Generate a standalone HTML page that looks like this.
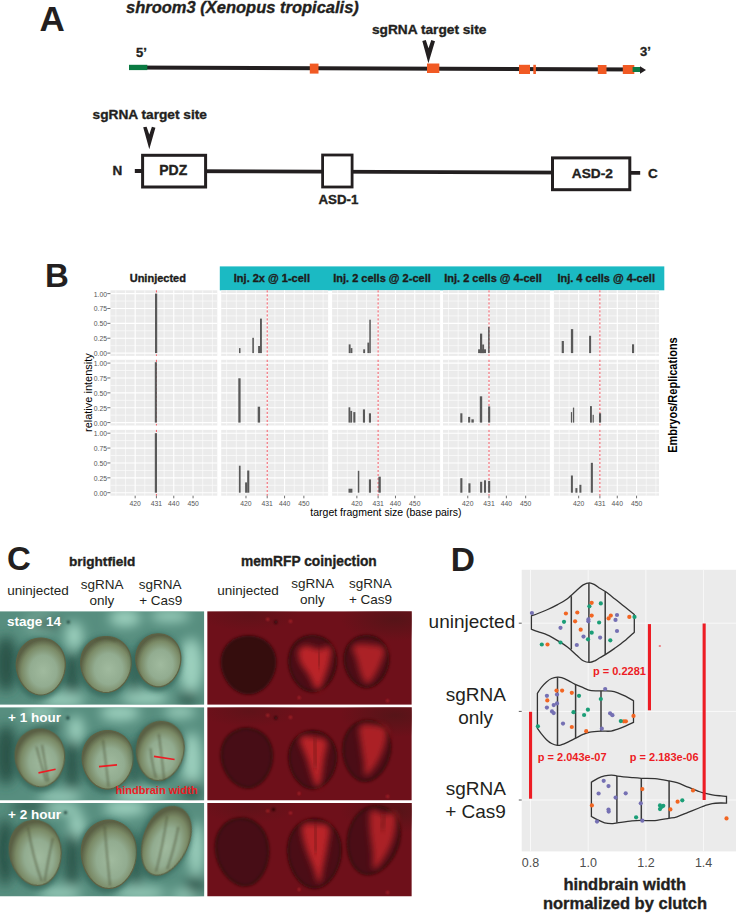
<!DOCTYPE html>
<html><head><meta charset="utf-8"><style>
html,body{margin:0;padding:0;background:#fff;width:736px;height:913px;overflow:hidden}
svg{display:block;font-family:"Liberation Sans",sans-serif}
.bk{stroke:#231F20;stroke-width:0.35px}
</style></head><body>
<svg width="736" height="913" viewBox="0 0 736 913">

<g id="A">
<text x="39.6" y="31" font-size="35" font-weight="bold" fill="#231F20">A</text>
<text class="bk" x="126" y="13" font-size="16.5" font-weight="bold" font-style="italic" fill="#231F20">shroom3 (Xenopus tropicalis)</text>
<text class="bk" x="136" y="57" font-size="13" font-weight="bold" fill="#231F20">5’</text>
<text class="bk" x="640" y="56" font-size="13" font-weight="bold" fill="#231F20">3’</text>
<text class="bk" x="372" y="33.5" font-size="13.7" font-weight="bold" fill="#231F20">sgRNA target site</text>
<path d="M422.3,41 L425.8,40.1 L428.5,48.2 L431.3,40.1 L435,41.3 L428.4,63.3 Z" fill="#231F20"/>
<line x1="129" y1="67.4" x2="641" y2="69.6" stroke="#231F20" stroke-width="4"/>
<rect x="129" y="64.8" width="18.3" height="5.3" fill="#0A7A42"/>
<rect x="309.8" y="63.6" width="8.7" height="10.0" fill="#F15A24"/>
<rect x="427" y="63.5" width="12.3" height="9.5" fill="#F15A24"/>
<rect x="519" y="64.8" width="11.0" height="9.2" fill="#F15A24"/>
<rect x="533.3" y="64.8" width="2.6" height="9.2" fill="#F15A24"/>
<rect x="597.8" y="65" width="8.7" height="9.0" fill="#F15A24"/>
<rect x="622.8" y="65" width="11.5" height="9.0" fill="#F15A24"/>
<rect x="632.6" y="67" width="7.6" height="5" fill="#0B7A45"/>
<path d="M640,66.3 L646,70 L640,73.8 Z" fill="#231F20"/>
<text class="bk" x="92.6" y="119.4" font-size="13.7" font-weight="bold" fill="#231F20">sgRNA target site</text>
<path d="M143.2,127.3 L146.6,126.7 L149.3,134.6 L151.9,126.8 L155.4,127.7 L149.3,149.3 Z" fill="#231F20"/>
<text class="bk" x="112.6" y="174.8" font-size="13.5" font-weight="bold" fill="#231F20">N</text>
<line x1="134.8" y1="171" x2="640.2" y2="172.9" stroke="#231F20" stroke-width="3.8"/>
<rect x="142.6" y="155.3" width="63" height="31.7" fill="#fff" stroke="#231F20" stroke-width="3"/>
<text class="bk" x="159.2" y="174.8" font-size="14" font-weight="bold" fill="#231F20">PDZ</text>
<rect x="322.6" y="155" width="29.5" height="32" fill="#fff" stroke="#231F20" stroke-width="2.8"/>
<text class="bk" x="318.5" y="203.6" font-size="13.3" font-weight="bold" fill="#231F20">ASD-1</text>
<rect x="552.5" y="157.9" width="77.3" height="31.8" fill="#fff" stroke="#231F20" stroke-width="3"/>
<text class="bk" x="571.8" y="177.6" font-size="13.7" font-weight="bold" fill="#231F20">ASD-2</text>
<text class="bk" x="648" y="177.6" font-size="13.5" font-weight="bold" fill="#231F20">C</text>
</g>
<g id="B">
<text x="45" y="287" font-size="33" font-weight="bold" fill="#231F20">B</text>
<text class="bk" x="129.7" y="282.1" font-size="11" font-weight="bold" fill="#1A1A1A">Uninjected</text>
<rect x="219.8" y="266.4" width="444.5" height="23.9" fill="#1BBAC3"/>
<text class="bk" x="233.8" y="282" font-size="11" font-weight="bold" fill="#1A1A1A">Inj. 2x @ 1-cell</text>
<text class="bk" x="333.2" y="282" font-size="11" font-weight="bold" fill="#1A1A1A">Inj. 2 cells @ 2-cell</text>
<text class="bk" x="444.2" y="282" font-size="11" font-weight="bold" fill="#1A1A1A">Inj. 2 cells @ 4-cell</text>
<text class="bk" x="557.4" y="282" font-size="11" font-weight="bold" fill="#1A1A1A">Inj. 4 cells @ 4-cell</text>
<rect x="110.4" y="290.3" width="106.9" height="65.6" fill="#EBEBEB"/>
<line x1="115.87" y1="290.3" x2="115.87" y2="355.9" stroke="#FAFAFA" stroke-width="0.8"/>
<line x1="125.52" y1="290.3" x2="125.52" y2="355.9" stroke="#FAFAFA" stroke-width="0.8"/>
<line x1="144.82" y1="290.3" x2="144.82" y2="355.9" stroke="#FAFAFA" stroke-width="0.8"/>
<line x1="164.12" y1="290.3" x2="164.12" y2="355.9" stroke="#FAFAFA" stroke-width="0.8"/>
<line x1="183.42" y1="290.3" x2="183.42" y2="355.9" stroke="#FAFAFA" stroke-width="0.8"/>
<line x1="202.72" y1="290.3" x2="202.72" y2="355.9" stroke="#FAFAFA" stroke-width="0.8"/>
<line x1="212.37" y1="290.3" x2="212.37" y2="355.9" stroke="#FAFAFA" stroke-width="0.8"/>
<line x1="110.4" y1="301.04" x2="217.3" y2="301.04" stroke="#FAFAFA" stroke-width="0.8"/>
<line x1="110.4" y1="315.92" x2="217.3" y2="315.92" stroke="#FAFAFA" stroke-width="0.8"/>
<line x1="110.4" y1="330.80" x2="217.3" y2="330.80" stroke="#FAFAFA" stroke-width="0.8"/>
<line x1="110.4" y1="345.68" x2="217.3" y2="345.68" stroke="#FAFAFA" stroke-width="0.8"/>
<line x1="135.17" y1="290.3" x2="135.17" y2="355.9" stroke="#fff" stroke-width="1.1"/>
<line x1="156.40" y1="290.3" x2="156.40" y2="355.9" stroke="#fff" stroke-width="1.1"/>
<line x1="173.77" y1="290.3" x2="173.77" y2="355.9" stroke="#fff" stroke-width="1.1"/>
<line x1="193.07" y1="290.3" x2="193.07" y2="355.9" stroke="#fff" stroke-width="1.1"/>
<line x1="110.4" y1="293.60" x2="217.3" y2="293.60" stroke="#fff" stroke-width="1.1"/>
<line x1="110.4" y1="308.48" x2="217.3" y2="308.48" stroke="#fff" stroke-width="1.1"/>
<line x1="110.4" y1="323.36" x2="217.3" y2="323.36" stroke="#fff" stroke-width="1.1"/>
<line x1="110.4" y1="338.24" x2="217.3" y2="338.24" stroke="#fff" stroke-width="1.1"/>
<line x1="110.4" y1="353.12" x2="217.3" y2="353.12" stroke="#fff" stroke-width="1.1"/>
<line x1="156.40" y1="290.3" x2="156.40" y2="355.9" stroke="#EE5560" stroke-width="1" stroke-dasharray="2.2,1.8"/>
<rect x="221.2" y="290.3" width="106.9" height="65.6" fill="#EBEBEB"/>
<line x1="226.67" y1="290.3" x2="226.67" y2="355.9" stroke="#FAFAFA" stroke-width="0.8"/>
<line x1="236.32" y1="290.3" x2="236.32" y2="355.9" stroke="#FAFAFA" stroke-width="0.8"/>
<line x1="255.62" y1="290.3" x2="255.62" y2="355.9" stroke="#FAFAFA" stroke-width="0.8"/>
<line x1="274.92" y1="290.3" x2="274.92" y2="355.9" stroke="#FAFAFA" stroke-width="0.8"/>
<line x1="294.22" y1="290.3" x2="294.22" y2="355.9" stroke="#FAFAFA" stroke-width="0.8"/>
<line x1="313.52" y1="290.3" x2="313.52" y2="355.9" stroke="#FAFAFA" stroke-width="0.8"/>
<line x1="323.17" y1="290.3" x2="323.17" y2="355.9" stroke="#FAFAFA" stroke-width="0.8"/>
<line x1="221.2" y1="301.04" x2="328.1" y2="301.04" stroke="#FAFAFA" stroke-width="0.8"/>
<line x1="221.2" y1="315.92" x2="328.1" y2="315.92" stroke="#FAFAFA" stroke-width="0.8"/>
<line x1="221.2" y1="330.80" x2="328.1" y2="330.80" stroke="#FAFAFA" stroke-width="0.8"/>
<line x1="221.2" y1="345.68" x2="328.1" y2="345.68" stroke="#FAFAFA" stroke-width="0.8"/>
<line x1="245.97" y1="290.3" x2="245.97" y2="355.9" stroke="#fff" stroke-width="1.1"/>
<line x1="267.20" y1="290.3" x2="267.20" y2="355.9" stroke="#fff" stroke-width="1.1"/>
<line x1="284.57" y1="290.3" x2="284.57" y2="355.9" stroke="#fff" stroke-width="1.1"/>
<line x1="303.87" y1="290.3" x2="303.87" y2="355.9" stroke="#fff" stroke-width="1.1"/>
<line x1="221.2" y1="293.60" x2="328.1" y2="293.60" stroke="#fff" stroke-width="1.1"/>
<line x1="221.2" y1="308.48" x2="328.1" y2="308.48" stroke="#fff" stroke-width="1.1"/>
<line x1="221.2" y1="323.36" x2="328.1" y2="323.36" stroke="#fff" stroke-width="1.1"/>
<line x1="221.2" y1="338.24" x2="328.1" y2="338.24" stroke="#fff" stroke-width="1.1"/>
<line x1="221.2" y1="353.12" x2="328.1" y2="353.12" stroke="#fff" stroke-width="1.1"/>
<line x1="267.20" y1="290.3" x2="267.20" y2="355.9" stroke="#EE5560" stroke-width="1" stroke-dasharray="2.2,1.8"/>
<rect x="332.1" y="290.3" width="108.0" height="65.6" fill="#EBEBEB"/>
<line x1="337.57" y1="290.3" x2="337.57" y2="355.9" stroke="#FAFAFA" stroke-width="0.8"/>
<line x1="347.22" y1="290.3" x2="347.22" y2="355.9" stroke="#FAFAFA" stroke-width="0.8"/>
<line x1="366.52" y1="290.3" x2="366.52" y2="355.9" stroke="#FAFAFA" stroke-width="0.8"/>
<line x1="385.82" y1="290.3" x2="385.82" y2="355.9" stroke="#FAFAFA" stroke-width="0.8"/>
<line x1="405.12" y1="290.3" x2="405.12" y2="355.9" stroke="#FAFAFA" stroke-width="0.8"/>
<line x1="424.42" y1="290.3" x2="424.42" y2="355.9" stroke="#FAFAFA" stroke-width="0.8"/>
<line x1="434.07" y1="290.3" x2="434.07" y2="355.9" stroke="#FAFAFA" stroke-width="0.8"/>
<line x1="332.1" y1="301.04" x2="440.1" y2="301.04" stroke="#FAFAFA" stroke-width="0.8"/>
<line x1="332.1" y1="315.92" x2="440.1" y2="315.92" stroke="#FAFAFA" stroke-width="0.8"/>
<line x1="332.1" y1="330.80" x2="440.1" y2="330.80" stroke="#FAFAFA" stroke-width="0.8"/>
<line x1="332.1" y1="345.68" x2="440.1" y2="345.68" stroke="#FAFAFA" stroke-width="0.8"/>
<line x1="356.87" y1="290.3" x2="356.87" y2="355.9" stroke="#fff" stroke-width="1.1"/>
<line x1="378.10" y1="290.3" x2="378.10" y2="355.9" stroke="#fff" stroke-width="1.1"/>
<line x1="395.47" y1="290.3" x2="395.47" y2="355.9" stroke="#fff" stroke-width="1.1"/>
<line x1="414.77" y1="290.3" x2="414.77" y2="355.9" stroke="#fff" stroke-width="1.1"/>
<line x1="332.1" y1="293.60" x2="440.1" y2="293.60" stroke="#fff" stroke-width="1.1"/>
<line x1="332.1" y1="308.48" x2="440.1" y2="308.48" stroke="#fff" stroke-width="1.1"/>
<line x1="332.1" y1="323.36" x2="440.1" y2="323.36" stroke="#fff" stroke-width="1.1"/>
<line x1="332.1" y1="338.24" x2="440.1" y2="338.24" stroke="#fff" stroke-width="1.1"/>
<line x1="332.1" y1="353.12" x2="440.1" y2="353.12" stroke="#fff" stroke-width="1.1"/>
<line x1="378.10" y1="290.3" x2="378.10" y2="355.9" stroke="#EE5560" stroke-width="1" stroke-dasharray="2.2,1.8"/>
<rect x="443.0" y="290.3" width="106.9" height="65.6" fill="#EBEBEB"/>
<line x1="448.47" y1="290.3" x2="448.47" y2="355.9" stroke="#FAFAFA" stroke-width="0.8"/>
<line x1="458.12" y1="290.3" x2="458.12" y2="355.9" stroke="#FAFAFA" stroke-width="0.8"/>
<line x1="477.42" y1="290.3" x2="477.42" y2="355.9" stroke="#FAFAFA" stroke-width="0.8"/>
<line x1="496.72" y1="290.3" x2="496.72" y2="355.9" stroke="#FAFAFA" stroke-width="0.8"/>
<line x1="516.02" y1="290.3" x2="516.02" y2="355.9" stroke="#FAFAFA" stroke-width="0.8"/>
<line x1="535.32" y1="290.3" x2="535.32" y2="355.9" stroke="#FAFAFA" stroke-width="0.8"/>
<line x1="544.97" y1="290.3" x2="544.97" y2="355.9" stroke="#FAFAFA" stroke-width="0.8"/>
<line x1="443.0" y1="301.04" x2="549.9" y2="301.04" stroke="#FAFAFA" stroke-width="0.8"/>
<line x1="443.0" y1="315.92" x2="549.9" y2="315.92" stroke="#FAFAFA" stroke-width="0.8"/>
<line x1="443.0" y1="330.80" x2="549.9" y2="330.80" stroke="#FAFAFA" stroke-width="0.8"/>
<line x1="443.0" y1="345.68" x2="549.9" y2="345.68" stroke="#FAFAFA" stroke-width="0.8"/>
<line x1="467.77" y1="290.3" x2="467.77" y2="355.9" stroke="#fff" stroke-width="1.1"/>
<line x1="489.00" y1="290.3" x2="489.00" y2="355.9" stroke="#fff" stroke-width="1.1"/>
<line x1="506.37" y1="290.3" x2="506.37" y2="355.9" stroke="#fff" stroke-width="1.1"/>
<line x1="525.67" y1="290.3" x2="525.67" y2="355.9" stroke="#fff" stroke-width="1.1"/>
<line x1="443.0" y1="293.60" x2="549.9" y2="293.60" stroke="#fff" stroke-width="1.1"/>
<line x1="443.0" y1="308.48" x2="549.9" y2="308.48" stroke="#fff" stroke-width="1.1"/>
<line x1="443.0" y1="323.36" x2="549.9" y2="323.36" stroke="#fff" stroke-width="1.1"/>
<line x1="443.0" y1="338.24" x2="549.9" y2="338.24" stroke="#fff" stroke-width="1.1"/>
<line x1="443.0" y1="353.12" x2="549.9" y2="353.12" stroke="#fff" stroke-width="1.1"/>
<line x1="489.00" y1="290.3" x2="489.00" y2="355.9" stroke="#EE5560" stroke-width="1" stroke-dasharray="2.2,1.8"/>
<rect x="553.9" y="290.3" width="105.1" height="65.6" fill="#EBEBEB"/>
<line x1="559.37" y1="290.3" x2="559.37" y2="355.9" stroke="#FAFAFA" stroke-width="0.8"/>
<line x1="569.02" y1="290.3" x2="569.02" y2="355.9" stroke="#FAFAFA" stroke-width="0.8"/>
<line x1="588.32" y1="290.3" x2="588.32" y2="355.9" stroke="#FAFAFA" stroke-width="0.8"/>
<line x1="607.62" y1="290.3" x2="607.62" y2="355.9" stroke="#FAFAFA" stroke-width="0.8"/>
<line x1="626.92" y1="290.3" x2="626.92" y2="355.9" stroke="#FAFAFA" stroke-width="0.8"/>
<line x1="646.22" y1="290.3" x2="646.22" y2="355.9" stroke="#FAFAFA" stroke-width="0.8"/>
<line x1="655.87" y1="290.3" x2="655.87" y2="355.9" stroke="#FAFAFA" stroke-width="0.8"/>
<line x1="553.9" y1="301.04" x2="659.0" y2="301.04" stroke="#FAFAFA" stroke-width="0.8"/>
<line x1="553.9" y1="315.92" x2="659.0" y2="315.92" stroke="#FAFAFA" stroke-width="0.8"/>
<line x1="553.9" y1="330.80" x2="659.0" y2="330.80" stroke="#FAFAFA" stroke-width="0.8"/>
<line x1="553.9" y1="345.68" x2="659.0" y2="345.68" stroke="#FAFAFA" stroke-width="0.8"/>
<line x1="578.67" y1="290.3" x2="578.67" y2="355.9" stroke="#fff" stroke-width="1.1"/>
<line x1="599.90" y1="290.3" x2="599.90" y2="355.9" stroke="#fff" stroke-width="1.1"/>
<line x1="617.27" y1="290.3" x2="617.27" y2="355.9" stroke="#fff" stroke-width="1.1"/>
<line x1="636.57" y1="290.3" x2="636.57" y2="355.9" stroke="#fff" stroke-width="1.1"/>
<line x1="553.9" y1="293.60" x2="659.0" y2="293.60" stroke="#fff" stroke-width="1.1"/>
<line x1="553.9" y1="308.48" x2="659.0" y2="308.48" stroke="#fff" stroke-width="1.1"/>
<line x1="553.9" y1="323.36" x2="659.0" y2="323.36" stroke="#fff" stroke-width="1.1"/>
<line x1="553.9" y1="338.24" x2="659.0" y2="338.24" stroke="#fff" stroke-width="1.1"/>
<line x1="553.9" y1="353.12" x2="659.0" y2="353.12" stroke="#fff" stroke-width="1.1"/>
<line x1="599.90" y1="290.3" x2="599.90" y2="355.9" stroke="#EE5560" stroke-width="1" stroke-dasharray="2.2,1.8"/>
<rect x="110.4" y="359.8" width="106.9" height="65.7" fill="#EBEBEB"/>
<line x1="115.87" y1="359.8" x2="115.87" y2="425.5" stroke="#FAFAFA" stroke-width="0.8"/>
<line x1="125.52" y1="359.8" x2="125.52" y2="425.5" stroke="#FAFAFA" stroke-width="0.8"/>
<line x1="144.82" y1="359.8" x2="144.82" y2="425.5" stroke="#FAFAFA" stroke-width="0.8"/>
<line x1="164.12" y1="359.8" x2="164.12" y2="425.5" stroke="#FAFAFA" stroke-width="0.8"/>
<line x1="183.42" y1="359.8" x2="183.42" y2="425.5" stroke="#FAFAFA" stroke-width="0.8"/>
<line x1="202.72" y1="359.8" x2="202.72" y2="425.5" stroke="#FAFAFA" stroke-width="0.8"/>
<line x1="212.37" y1="359.8" x2="212.37" y2="425.5" stroke="#FAFAFA" stroke-width="0.8"/>
<line x1="110.4" y1="370.54" x2="217.3" y2="370.54" stroke="#FAFAFA" stroke-width="0.8"/>
<line x1="110.4" y1="385.42" x2="217.3" y2="385.42" stroke="#FAFAFA" stroke-width="0.8"/>
<line x1="110.4" y1="400.30" x2="217.3" y2="400.30" stroke="#FAFAFA" stroke-width="0.8"/>
<line x1="110.4" y1="415.18" x2="217.3" y2="415.18" stroke="#FAFAFA" stroke-width="0.8"/>
<line x1="135.17" y1="359.8" x2="135.17" y2="425.5" stroke="#fff" stroke-width="1.1"/>
<line x1="156.40" y1="359.8" x2="156.40" y2="425.5" stroke="#fff" stroke-width="1.1"/>
<line x1="173.77" y1="359.8" x2="173.77" y2="425.5" stroke="#fff" stroke-width="1.1"/>
<line x1="193.07" y1="359.8" x2="193.07" y2="425.5" stroke="#fff" stroke-width="1.1"/>
<line x1="110.4" y1="363.10" x2="217.3" y2="363.10" stroke="#fff" stroke-width="1.1"/>
<line x1="110.4" y1="377.98" x2="217.3" y2="377.98" stroke="#fff" stroke-width="1.1"/>
<line x1="110.4" y1="392.86" x2="217.3" y2="392.86" stroke="#fff" stroke-width="1.1"/>
<line x1="110.4" y1="407.74" x2="217.3" y2="407.74" stroke="#fff" stroke-width="1.1"/>
<line x1="110.4" y1="422.62" x2="217.3" y2="422.62" stroke="#fff" stroke-width="1.1"/>
<line x1="156.40" y1="359.8" x2="156.40" y2="425.5" stroke="#EE5560" stroke-width="1" stroke-dasharray="2.2,1.8"/>
<rect x="221.2" y="359.8" width="106.9" height="65.7" fill="#EBEBEB"/>
<line x1="226.67" y1="359.8" x2="226.67" y2="425.5" stroke="#FAFAFA" stroke-width="0.8"/>
<line x1="236.32" y1="359.8" x2="236.32" y2="425.5" stroke="#FAFAFA" stroke-width="0.8"/>
<line x1="255.62" y1="359.8" x2="255.62" y2="425.5" stroke="#FAFAFA" stroke-width="0.8"/>
<line x1="274.92" y1="359.8" x2="274.92" y2="425.5" stroke="#FAFAFA" stroke-width="0.8"/>
<line x1="294.22" y1="359.8" x2="294.22" y2="425.5" stroke="#FAFAFA" stroke-width="0.8"/>
<line x1="313.52" y1="359.8" x2="313.52" y2="425.5" stroke="#FAFAFA" stroke-width="0.8"/>
<line x1="323.17" y1="359.8" x2="323.17" y2="425.5" stroke="#FAFAFA" stroke-width="0.8"/>
<line x1="221.2" y1="370.54" x2="328.1" y2="370.54" stroke="#FAFAFA" stroke-width="0.8"/>
<line x1="221.2" y1="385.42" x2="328.1" y2="385.42" stroke="#FAFAFA" stroke-width="0.8"/>
<line x1="221.2" y1="400.30" x2="328.1" y2="400.30" stroke="#FAFAFA" stroke-width="0.8"/>
<line x1="221.2" y1="415.18" x2="328.1" y2="415.18" stroke="#FAFAFA" stroke-width="0.8"/>
<line x1="245.97" y1="359.8" x2="245.97" y2="425.5" stroke="#fff" stroke-width="1.1"/>
<line x1="267.20" y1="359.8" x2="267.20" y2="425.5" stroke="#fff" stroke-width="1.1"/>
<line x1="284.57" y1="359.8" x2="284.57" y2="425.5" stroke="#fff" stroke-width="1.1"/>
<line x1="303.87" y1="359.8" x2="303.87" y2="425.5" stroke="#fff" stroke-width="1.1"/>
<line x1="221.2" y1="363.10" x2="328.1" y2="363.10" stroke="#fff" stroke-width="1.1"/>
<line x1="221.2" y1="377.98" x2="328.1" y2="377.98" stroke="#fff" stroke-width="1.1"/>
<line x1="221.2" y1="392.86" x2="328.1" y2="392.86" stroke="#fff" stroke-width="1.1"/>
<line x1="221.2" y1="407.74" x2="328.1" y2="407.74" stroke="#fff" stroke-width="1.1"/>
<line x1="221.2" y1="422.62" x2="328.1" y2="422.62" stroke="#fff" stroke-width="1.1"/>
<line x1="267.20" y1="359.8" x2="267.20" y2="425.5" stroke="#EE5560" stroke-width="1" stroke-dasharray="2.2,1.8"/>
<rect x="332.1" y="359.8" width="108.0" height="65.7" fill="#EBEBEB"/>
<line x1="337.57" y1="359.8" x2="337.57" y2="425.5" stroke="#FAFAFA" stroke-width="0.8"/>
<line x1="347.22" y1="359.8" x2="347.22" y2="425.5" stroke="#FAFAFA" stroke-width="0.8"/>
<line x1="366.52" y1="359.8" x2="366.52" y2="425.5" stroke="#FAFAFA" stroke-width="0.8"/>
<line x1="385.82" y1="359.8" x2="385.82" y2="425.5" stroke="#FAFAFA" stroke-width="0.8"/>
<line x1="405.12" y1="359.8" x2="405.12" y2="425.5" stroke="#FAFAFA" stroke-width="0.8"/>
<line x1="424.42" y1="359.8" x2="424.42" y2="425.5" stroke="#FAFAFA" stroke-width="0.8"/>
<line x1="434.07" y1="359.8" x2="434.07" y2="425.5" stroke="#FAFAFA" stroke-width="0.8"/>
<line x1="332.1" y1="370.54" x2="440.1" y2="370.54" stroke="#FAFAFA" stroke-width="0.8"/>
<line x1="332.1" y1="385.42" x2="440.1" y2="385.42" stroke="#FAFAFA" stroke-width="0.8"/>
<line x1="332.1" y1="400.30" x2="440.1" y2="400.30" stroke="#FAFAFA" stroke-width="0.8"/>
<line x1="332.1" y1="415.18" x2="440.1" y2="415.18" stroke="#FAFAFA" stroke-width="0.8"/>
<line x1="356.87" y1="359.8" x2="356.87" y2="425.5" stroke="#fff" stroke-width="1.1"/>
<line x1="378.10" y1="359.8" x2="378.10" y2="425.5" stroke="#fff" stroke-width="1.1"/>
<line x1="395.47" y1="359.8" x2="395.47" y2="425.5" stroke="#fff" stroke-width="1.1"/>
<line x1="414.77" y1="359.8" x2="414.77" y2="425.5" stroke="#fff" stroke-width="1.1"/>
<line x1="332.1" y1="363.10" x2="440.1" y2="363.10" stroke="#fff" stroke-width="1.1"/>
<line x1="332.1" y1="377.98" x2="440.1" y2="377.98" stroke="#fff" stroke-width="1.1"/>
<line x1="332.1" y1="392.86" x2="440.1" y2="392.86" stroke="#fff" stroke-width="1.1"/>
<line x1="332.1" y1="407.74" x2="440.1" y2="407.74" stroke="#fff" stroke-width="1.1"/>
<line x1="332.1" y1="422.62" x2="440.1" y2="422.62" stroke="#fff" stroke-width="1.1"/>
<line x1="378.10" y1="359.8" x2="378.10" y2="425.5" stroke="#EE5560" stroke-width="1" stroke-dasharray="2.2,1.8"/>
<rect x="443.0" y="359.8" width="106.9" height="65.7" fill="#EBEBEB"/>
<line x1="448.47" y1="359.8" x2="448.47" y2="425.5" stroke="#FAFAFA" stroke-width="0.8"/>
<line x1="458.12" y1="359.8" x2="458.12" y2="425.5" stroke="#FAFAFA" stroke-width="0.8"/>
<line x1="477.42" y1="359.8" x2="477.42" y2="425.5" stroke="#FAFAFA" stroke-width="0.8"/>
<line x1="496.72" y1="359.8" x2="496.72" y2="425.5" stroke="#FAFAFA" stroke-width="0.8"/>
<line x1="516.02" y1="359.8" x2="516.02" y2="425.5" stroke="#FAFAFA" stroke-width="0.8"/>
<line x1="535.32" y1="359.8" x2="535.32" y2="425.5" stroke="#FAFAFA" stroke-width="0.8"/>
<line x1="544.97" y1="359.8" x2="544.97" y2="425.5" stroke="#FAFAFA" stroke-width="0.8"/>
<line x1="443.0" y1="370.54" x2="549.9" y2="370.54" stroke="#FAFAFA" stroke-width="0.8"/>
<line x1="443.0" y1="385.42" x2="549.9" y2="385.42" stroke="#FAFAFA" stroke-width="0.8"/>
<line x1="443.0" y1="400.30" x2="549.9" y2="400.30" stroke="#FAFAFA" stroke-width="0.8"/>
<line x1="443.0" y1="415.18" x2="549.9" y2="415.18" stroke="#FAFAFA" stroke-width="0.8"/>
<line x1="467.77" y1="359.8" x2="467.77" y2="425.5" stroke="#fff" stroke-width="1.1"/>
<line x1="489.00" y1="359.8" x2="489.00" y2="425.5" stroke="#fff" stroke-width="1.1"/>
<line x1="506.37" y1="359.8" x2="506.37" y2="425.5" stroke="#fff" stroke-width="1.1"/>
<line x1="525.67" y1="359.8" x2="525.67" y2="425.5" stroke="#fff" stroke-width="1.1"/>
<line x1="443.0" y1="363.10" x2="549.9" y2="363.10" stroke="#fff" stroke-width="1.1"/>
<line x1="443.0" y1="377.98" x2="549.9" y2="377.98" stroke="#fff" stroke-width="1.1"/>
<line x1="443.0" y1="392.86" x2="549.9" y2="392.86" stroke="#fff" stroke-width="1.1"/>
<line x1="443.0" y1="407.74" x2="549.9" y2="407.74" stroke="#fff" stroke-width="1.1"/>
<line x1="443.0" y1="422.62" x2="549.9" y2="422.62" stroke="#fff" stroke-width="1.1"/>
<line x1="489.00" y1="359.8" x2="489.00" y2="425.5" stroke="#EE5560" stroke-width="1" stroke-dasharray="2.2,1.8"/>
<rect x="553.9" y="359.8" width="105.1" height="65.7" fill="#EBEBEB"/>
<line x1="559.37" y1="359.8" x2="559.37" y2="425.5" stroke="#FAFAFA" stroke-width="0.8"/>
<line x1="569.02" y1="359.8" x2="569.02" y2="425.5" stroke="#FAFAFA" stroke-width="0.8"/>
<line x1="588.32" y1="359.8" x2="588.32" y2="425.5" stroke="#FAFAFA" stroke-width="0.8"/>
<line x1="607.62" y1="359.8" x2="607.62" y2="425.5" stroke="#FAFAFA" stroke-width="0.8"/>
<line x1="626.92" y1="359.8" x2="626.92" y2="425.5" stroke="#FAFAFA" stroke-width="0.8"/>
<line x1="646.22" y1="359.8" x2="646.22" y2="425.5" stroke="#FAFAFA" stroke-width="0.8"/>
<line x1="655.87" y1="359.8" x2="655.87" y2="425.5" stroke="#FAFAFA" stroke-width="0.8"/>
<line x1="553.9" y1="370.54" x2="659.0" y2="370.54" stroke="#FAFAFA" stroke-width="0.8"/>
<line x1="553.9" y1="385.42" x2="659.0" y2="385.42" stroke="#FAFAFA" stroke-width="0.8"/>
<line x1="553.9" y1="400.30" x2="659.0" y2="400.30" stroke="#FAFAFA" stroke-width="0.8"/>
<line x1="553.9" y1="415.18" x2="659.0" y2="415.18" stroke="#FAFAFA" stroke-width="0.8"/>
<line x1="578.67" y1="359.8" x2="578.67" y2="425.5" stroke="#fff" stroke-width="1.1"/>
<line x1="599.90" y1="359.8" x2="599.90" y2="425.5" stroke="#fff" stroke-width="1.1"/>
<line x1="617.27" y1="359.8" x2="617.27" y2="425.5" stroke="#fff" stroke-width="1.1"/>
<line x1="636.57" y1="359.8" x2="636.57" y2="425.5" stroke="#fff" stroke-width="1.1"/>
<line x1="553.9" y1="363.10" x2="659.0" y2="363.10" stroke="#fff" stroke-width="1.1"/>
<line x1="553.9" y1="377.98" x2="659.0" y2="377.98" stroke="#fff" stroke-width="1.1"/>
<line x1="553.9" y1="392.86" x2="659.0" y2="392.86" stroke="#fff" stroke-width="1.1"/>
<line x1="553.9" y1="407.74" x2="659.0" y2="407.74" stroke="#fff" stroke-width="1.1"/>
<line x1="553.9" y1="422.62" x2="659.0" y2="422.62" stroke="#fff" stroke-width="1.1"/>
<line x1="599.90" y1="359.8" x2="599.90" y2="425.5" stroke="#EE5560" stroke-width="1" stroke-dasharray="2.2,1.8"/>
<rect x="110.4" y="429.9" width="106.9" height="65.8" fill="#EBEBEB"/>
<line x1="115.87" y1="429.9" x2="115.87" y2="495.7" stroke="#FAFAFA" stroke-width="0.8"/>
<line x1="125.52" y1="429.9" x2="125.52" y2="495.7" stroke="#FAFAFA" stroke-width="0.8"/>
<line x1="144.82" y1="429.9" x2="144.82" y2="495.7" stroke="#FAFAFA" stroke-width="0.8"/>
<line x1="164.12" y1="429.9" x2="164.12" y2="495.7" stroke="#FAFAFA" stroke-width="0.8"/>
<line x1="183.42" y1="429.9" x2="183.42" y2="495.7" stroke="#FAFAFA" stroke-width="0.8"/>
<line x1="202.72" y1="429.9" x2="202.72" y2="495.7" stroke="#FAFAFA" stroke-width="0.8"/>
<line x1="212.37" y1="429.9" x2="212.37" y2="495.7" stroke="#FAFAFA" stroke-width="0.8"/>
<line x1="110.4" y1="440.64" x2="217.3" y2="440.64" stroke="#FAFAFA" stroke-width="0.8"/>
<line x1="110.4" y1="455.52" x2="217.3" y2="455.52" stroke="#FAFAFA" stroke-width="0.8"/>
<line x1="110.4" y1="470.40" x2="217.3" y2="470.40" stroke="#FAFAFA" stroke-width="0.8"/>
<line x1="110.4" y1="485.28" x2="217.3" y2="485.28" stroke="#FAFAFA" stroke-width="0.8"/>
<line x1="135.17" y1="429.9" x2="135.17" y2="495.7" stroke="#fff" stroke-width="1.1"/>
<line x1="156.40" y1="429.9" x2="156.40" y2="495.7" stroke="#fff" stroke-width="1.1"/>
<line x1="173.77" y1="429.9" x2="173.77" y2="495.7" stroke="#fff" stroke-width="1.1"/>
<line x1="193.07" y1="429.9" x2="193.07" y2="495.7" stroke="#fff" stroke-width="1.1"/>
<line x1="110.4" y1="433.20" x2="217.3" y2="433.20" stroke="#fff" stroke-width="1.1"/>
<line x1="110.4" y1="448.08" x2="217.3" y2="448.08" stroke="#fff" stroke-width="1.1"/>
<line x1="110.4" y1="462.96" x2="217.3" y2="462.96" stroke="#fff" stroke-width="1.1"/>
<line x1="110.4" y1="477.84" x2="217.3" y2="477.84" stroke="#fff" stroke-width="1.1"/>
<line x1="110.4" y1="492.72" x2="217.3" y2="492.72" stroke="#fff" stroke-width="1.1"/>
<line x1="156.40" y1="429.9" x2="156.40" y2="495.7" stroke="#EE5560" stroke-width="1" stroke-dasharray="2.2,1.8"/>
<rect x="221.2" y="429.9" width="106.9" height="65.8" fill="#EBEBEB"/>
<line x1="226.67" y1="429.9" x2="226.67" y2="495.7" stroke="#FAFAFA" stroke-width="0.8"/>
<line x1="236.32" y1="429.9" x2="236.32" y2="495.7" stroke="#FAFAFA" stroke-width="0.8"/>
<line x1="255.62" y1="429.9" x2="255.62" y2="495.7" stroke="#FAFAFA" stroke-width="0.8"/>
<line x1="274.92" y1="429.9" x2="274.92" y2="495.7" stroke="#FAFAFA" stroke-width="0.8"/>
<line x1="294.22" y1="429.9" x2="294.22" y2="495.7" stroke="#FAFAFA" stroke-width="0.8"/>
<line x1="313.52" y1="429.9" x2="313.52" y2="495.7" stroke="#FAFAFA" stroke-width="0.8"/>
<line x1="323.17" y1="429.9" x2="323.17" y2="495.7" stroke="#FAFAFA" stroke-width="0.8"/>
<line x1="221.2" y1="440.64" x2="328.1" y2="440.64" stroke="#FAFAFA" stroke-width="0.8"/>
<line x1="221.2" y1="455.52" x2="328.1" y2="455.52" stroke="#FAFAFA" stroke-width="0.8"/>
<line x1="221.2" y1="470.40" x2="328.1" y2="470.40" stroke="#FAFAFA" stroke-width="0.8"/>
<line x1="221.2" y1="485.28" x2="328.1" y2="485.28" stroke="#FAFAFA" stroke-width="0.8"/>
<line x1="245.97" y1="429.9" x2="245.97" y2="495.7" stroke="#fff" stroke-width="1.1"/>
<line x1="267.20" y1="429.9" x2="267.20" y2="495.7" stroke="#fff" stroke-width="1.1"/>
<line x1="284.57" y1="429.9" x2="284.57" y2="495.7" stroke="#fff" stroke-width="1.1"/>
<line x1="303.87" y1="429.9" x2="303.87" y2="495.7" stroke="#fff" stroke-width="1.1"/>
<line x1="221.2" y1="433.20" x2="328.1" y2="433.20" stroke="#fff" stroke-width="1.1"/>
<line x1="221.2" y1="448.08" x2="328.1" y2="448.08" stroke="#fff" stroke-width="1.1"/>
<line x1="221.2" y1="462.96" x2="328.1" y2="462.96" stroke="#fff" stroke-width="1.1"/>
<line x1="221.2" y1="477.84" x2="328.1" y2="477.84" stroke="#fff" stroke-width="1.1"/>
<line x1="221.2" y1="492.72" x2="328.1" y2="492.72" stroke="#fff" stroke-width="1.1"/>
<line x1="267.20" y1="429.9" x2="267.20" y2="495.7" stroke="#EE5560" stroke-width="1" stroke-dasharray="2.2,1.8"/>
<rect x="332.1" y="429.9" width="108.0" height="65.8" fill="#EBEBEB"/>
<line x1="337.57" y1="429.9" x2="337.57" y2="495.7" stroke="#FAFAFA" stroke-width="0.8"/>
<line x1="347.22" y1="429.9" x2="347.22" y2="495.7" stroke="#FAFAFA" stroke-width="0.8"/>
<line x1="366.52" y1="429.9" x2="366.52" y2="495.7" stroke="#FAFAFA" stroke-width="0.8"/>
<line x1="385.82" y1="429.9" x2="385.82" y2="495.7" stroke="#FAFAFA" stroke-width="0.8"/>
<line x1="405.12" y1="429.9" x2="405.12" y2="495.7" stroke="#FAFAFA" stroke-width="0.8"/>
<line x1="424.42" y1="429.9" x2="424.42" y2="495.7" stroke="#FAFAFA" stroke-width="0.8"/>
<line x1="434.07" y1="429.9" x2="434.07" y2="495.7" stroke="#FAFAFA" stroke-width="0.8"/>
<line x1="332.1" y1="440.64" x2="440.1" y2="440.64" stroke="#FAFAFA" stroke-width="0.8"/>
<line x1="332.1" y1="455.52" x2="440.1" y2="455.52" stroke="#FAFAFA" stroke-width="0.8"/>
<line x1="332.1" y1="470.40" x2="440.1" y2="470.40" stroke="#FAFAFA" stroke-width="0.8"/>
<line x1="332.1" y1="485.28" x2="440.1" y2="485.28" stroke="#FAFAFA" stroke-width="0.8"/>
<line x1="356.87" y1="429.9" x2="356.87" y2="495.7" stroke="#fff" stroke-width="1.1"/>
<line x1="378.10" y1="429.9" x2="378.10" y2="495.7" stroke="#fff" stroke-width="1.1"/>
<line x1="395.47" y1="429.9" x2="395.47" y2="495.7" stroke="#fff" stroke-width="1.1"/>
<line x1="414.77" y1="429.9" x2="414.77" y2="495.7" stroke="#fff" stroke-width="1.1"/>
<line x1="332.1" y1="433.20" x2="440.1" y2="433.20" stroke="#fff" stroke-width="1.1"/>
<line x1="332.1" y1="448.08" x2="440.1" y2="448.08" stroke="#fff" stroke-width="1.1"/>
<line x1="332.1" y1="462.96" x2="440.1" y2="462.96" stroke="#fff" stroke-width="1.1"/>
<line x1="332.1" y1="477.84" x2="440.1" y2="477.84" stroke="#fff" stroke-width="1.1"/>
<line x1="332.1" y1="492.72" x2="440.1" y2="492.72" stroke="#fff" stroke-width="1.1"/>
<line x1="378.10" y1="429.9" x2="378.10" y2="495.7" stroke="#EE5560" stroke-width="1" stroke-dasharray="2.2,1.8"/>
<rect x="443.0" y="429.9" width="106.9" height="65.8" fill="#EBEBEB"/>
<line x1="448.47" y1="429.9" x2="448.47" y2="495.7" stroke="#FAFAFA" stroke-width="0.8"/>
<line x1="458.12" y1="429.9" x2="458.12" y2="495.7" stroke="#FAFAFA" stroke-width="0.8"/>
<line x1="477.42" y1="429.9" x2="477.42" y2="495.7" stroke="#FAFAFA" stroke-width="0.8"/>
<line x1="496.72" y1="429.9" x2="496.72" y2="495.7" stroke="#FAFAFA" stroke-width="0.8"/>
<line x1="516.02" y1="429.9" x2="516.02" y2="495.7" stroke="#FAFAFA" stroke-width="0.8"/>
<line x1="535.32" y1="429.9" x2="535.32" y2="495.7" stroke="#FAFAFA" stroke-width="0.8"/>
<line x1="544.97" y1="429.9" x2="544.97" y2="495.7" stroke="#FAFAFA" stroke-width="0.8"/>
<line x1="443.0" y1="440.64" x2="549.9" y2="440.64" stroke="#FAFAFA" stroke-width="0.8"/>
<line x1="443.0" y1="455.52" x2="549.9" y2="455.52" stroke="#FAFAFA" stroke-width="0.8"/>
<line x1="443.0" y1="470.40" x2="549.9" y2="470.40" stroke="#FAFAFA" stroke-width="0.8"/>
<line x1="443.0" y1="485.28" x2="549.9" y2="485.28" stroke="#FAFAFA" stroke-width="0.8"/>
<line x1="467.77" y1="429.9" x2="467.77" y2="495.7" stroke="#fff" stroke-width="1.1"/>
<line x1="489.00" y1="429.9" x2="489.00" y2="495.7" stroke="#fff" stroke-width="1.1"/>
<line x1="506.37" y1="429.9" x2="506.37" y2="495.7" stroke="#fff" stroke-width="1.1"/>
<line x1="525.67" y1="429.9" x2="525.67" y2="495.7" stroke="#fff" stroke-width="1.1"/>
<line x1="443.0" y1="433.20" x2="549.9" y2="433.20" stroke="#fff" stroke-width="1.1"/>
<line x1="443.0" y1="448.08" x2="549.9" y2="448.08" stroke="#fff" stroke-width="1.1"/>
<line x1="443.0" y1="462.96" x2="549.9" y2="462.96" stroke="#fff" stroke-width="1.1"/>
<line x1="443.0" y1="477.84" x2="549.9" y2="477.84" stroke="#fff" stroke-width="1.1"/>
<line x1="443.0" y1="492.72" x2="549.9" y2="492.72" stroke="#fff" stroke-width="1.1"/>
<line x1="489.00" y1="429.9" x2="489.00" y2="495.7" stroke="#EE5560" stroke-width="1" stroke-dasharray="2.2,1.8"/>
<rect x="553.9" y="429.9" width="105.1" height="65.8" fill="#EBEBEB"/>
<line x1="559.37" y1="429.9" x2="559.37" y2="495.7" stroke="#FAFAFA" stroke-width="0.8"/>
<line x1="569.02" y1="429.9" x2="569.02" y2="495.7" stroke="#FAFAFA" stroke-width="0.8"/>
<line x1="588.32" y1="429.9" x2="588.32" y2="495.7" stroke="#FAFAFA" stroke-width="0.8"/>
<line x1="607.62" y1="429.9" x2="607.62" y2="495.7" stroke="#FAFAFA" stroke-width="0.8"/>
<line x1="626.92" y1="429.9" x2="626.92" y2="495.7" stroke="#FAFAFA" stroke-width="0.8"/>
<line x1="646.22" y1="429.9" x2="646.22" y2="495.7" stroke="#FAFAFA" stroke-width="0.8"/>
<line x1="655.87" y1="429.9" x2="655.87" y2="495.7" stroke="#FAFAFA" stroke-width="0.8"/>
<line x1="553.9" y1="440.64" x2="659.0" y2="440.64" stroke="#FAFAFA" stroke-width="0.8"/>
<line x1="553.9" y1="455.52" x2="659.0" y2="455.52" stroke="#FAFAFA" stroke-width="0.8"/>
<line x1="553.9" y1="470.40" x2="659.0" y2="470.40" stroke="#FAFAFA" stroke-width="0.8"/>
<line x1="553.9" y1="485.28" x2="659.0" y2="485.28" stroke="#FAFAFA" stroke-width="0.8"/>
<line x1="578.67" y1="429.9" x2="578.67" y2="495.7" stroke="#fff" stroke-width="1.1"/>
<line x1="599.90" y1="429.9" x2="599.90" y2="495.7" stroke="#fff" stroke-width="1.1"/>
<line x1="617.27" y1="429.9" x2="617.27" y2="495.7" stroke="#fff" stroke-width="1.1"/>
<line x1="636.57" y1="429.9" x2="636.57" y2="495.7" stroke="#fff" stroke-width="1.1"/>
<line x1="553.9" y1="433.20" x2="659.0" y2="433.20" stroke="#fff" stroke-width="1.1"/>
<line x1="553.9" y1="448.08" x2="659.0" y2="448.08" stroke="#fff" stroke-width="1.1"/>
<line x1="553.9" y1="462.96" x2="659.0" y2="462.96" stroke="#fff" stroke-width="1.1"/>
<line x1="553.9" y1="477.84" x2="659.0" y2="477.84" stroke="#fff" stroke-width="1.1"/>
<line x1="553.9" y1="492.72" x2="659.0" y2="492.72" stroke="#fff" stroke-width="1.1"/>
<line x1="599.90" y1="429.9" x2="599.90" y2="495.7" stroke="#EE5560" stroke-width="1" stroke-dasharray="2.2,1.8"/>
<rect x="155" y="293.6" width="2.2" height="59.5" fill="#595959"/>
<rect x="239" y="348.1" width="1.5" height="5.0" fill="#595959"/>
<rect x="252.3" y="337.8" width="1.6" height="15.3" fill="#595959"/>
<rect x="258.1" y="346" width="1.9" height="7.1" fill="#595959"/>
<rect x="260" y="318.6" width="1.9" height="34.5" fill="#595959"/>
<rect x="348.7" y="344.4" width="1.9" height="8.7" fill="#595959"/>
<rect x="350.6" y="348.1" width="1.8" height="5.0" fill="#595959"/>
<rect x="363.2" y="349.3" width="1.9" height="3.8" fill="#595959"/>
<rect x="367.4" y="342.6" width="1.9" height="10.5" fill="#595959"/>
<rect x="369.3" y="319.7" width="1.5" height="33.4" fill="#595959"/>
<rect x="478.1" y="349.3" width="7.9" height="3.8" fill="#595959"/>
<rect x="480" y="333.6" width="2.2" height="19.5" fill="#595959"/>
<rect x="482.2" y="344.5" width="1.9" height="8.6" fill="#595959"/>
<rect x="488.1" y="326.9" width="1.5" height="26.2" fill="#595959"/>
<rect x="561.7" y="341" width="2.2" height="12.1" fill="#595959"/>
<rect x="570.9" y="329.1" width="2.3" height="24.0" fill="#595959"/>
<rect x="589.1" y="335.8" width="2.0" height="17.3" fill="#595959"/>
<rect x="632" y="344.3" width="2.1" height="8.8" fill="#595959"/>
<rect x="154.8" y="362.2" width="2.1" height="60.4" fill="#595959"/>
<rect x="238.3" y="378.3" width="2.3" height="44.3" fill="#595959"/>
<rect x="257.7" y="406.7" width="2.4" height="15.9" fill="#595959"/>
<rect x="348.5" y="407.3" width="1.8" height="15.3" fill="#595959"/>
<rect x="350.3" y="410.9" width="1.8" height="11.7" fill="#595959"/>
<rect x="353.3" y="412.1" width="2.1" height="10.5" fill="#595959"/>
<rect x="362.9" y="409.4" width="2.1" height="13.2" fill="#595959"/>
<rect x="368.9" y="413.3" width="2.1" height="9.3" fill="#595959"/>
<rect x="460.3" y="413.3" width="2.1" height="9.3" fill="#595959"/>
<rect x="468.1" y="416.9" width="2.1" height="5.7" fill="#595959"/>
<rect x="471.4" y="419.3" width="2.4" height="3.3" fill="#595959"/>
<rect x="479.8" y="396.3" width="2.4" height="26.3" fill="#595959"/>
<rect x="488.1" y="406.4" width="2.1" height="16.2" fill="#595959"/>
<rect x="570.9" y="412.1" width="1.2" height="10.5" fill="#595959"/>
<rect x="572.9" y="407.6" width="1.3" height="15.0" fill="#595959"/>
<rect x="590" y="406.1" width="1.9" height="16.5" fill="#595959"/>
<rect x="592.6" y="414.8" width="1.2" height="7.8" fill="#595959"/>
<rect x="599" y="413.3" width="2.1" height="9.3" fill="#595959"/>
<rect x="154.8" y="433.2" width="2.2" height="59.5" fill="#595959"/>
<rect x="238.9" y="465.7" width="1.7" height="27.0" fill="#595959"/>
<rect x="245.1" y="482.4" width="2.1" height="10.3" fill="#595959"/>
<rect x="247.2" y="470.5" width="2.1" height="22.2" fill="#595959"/>
<rect x="348.5" y="488.7" width="3.9" height="4.0" fill="#595959"/>
<rect x="357.8" y="470.8" width="1.5" height="21.9" fill="#595959"/>
<rect x="368.9" y="479.4" width="2.1" height="13.3" fill="#595959"/>
<rect x="378.4" y="476.7" width="2.4" height="16.0" fill="#595959"/>
<rect x="460.3" y="478.2" width="2.1" height="14.5" fill="#595959"/>
<rect x="468.4" y="483.3" width="2.1" height="9.4" fill="#595959"/>
<rect x="480.1" y="481.8" width="2.1" height="10.9" fill="#595959"/>
<rect x="484" y="480.3" width="2.0" height="12.4" fill="#595959"/>
<rect x="488.1" y="480.9" width="2.1" height="11.8" fill="#595959"/>
<rect x="570.9" y="475.5" width="2.0" height="17.2" fill="#595959"/>
<rect x="575.4" y="488.1" width="2.0" height="4.6" fill="#595959"/>
<rect x="579.4" y="484.8" width="2.0" height="7.9" fill="#595959"/>
<rect x="590.8" y="462.8" width="2.1" height="29.9" fill="#595959"/>
<text x="107" y="296.60" font-size="6.8" fill="#555" text-anchor="end">1.00</text>
<line x1="107.3" y1="293.60" x2="110.4" y2="293.60" stroke="#333" stroke-width="0.7"/>
<text x="107" y="311.48" font-size="6.8" fill="#555" text-anchor="end">0.75</text>
<line x1="107.3" y1="308.48" x2="110.4" y2="308.48" stroke="#333" stroke-width="0.7"/>
<text x="107" y="326.35" font-size="6.8" fill="#555" text-anchor="end">0.50</text>
<line x1="107.3" y1="323.35" x2="110.4" y2="323.35" stroke="#333" stroke-width="0.7"/>
<text x="107" y="341.23" font-size="6.8" fill="#555" text-anchor="end">0.25</text>
<line x1="107.3" y1="338.23" x2="110.4" y2="338.23" stroke="#333" stroke-width="0.7"/>
<text x="107" y="356.10" font-size="6.8" fill="#555" text-anchor="end">0.00</text>
<line x1="107.3" y1="353.10" x2="110.4" y2="353.10" stroke="#333" stroke-width="0.7"/>
<text x="107" y="366.10" font-size="6.8" fill="#555" text-anchor="end">1.00</text>
<line x1="107.3" y1="363.10" x2="110.4" y2="363.10" stroke="#333" stroke-width="0.7"/>
<text x="107" y="380.98" font-size="6.8" fill="#555" text-anchor="end">0.75</text>
<line x1="107.3" y1="377.98" x2="110.4" y2="377.98" stroke="#333" stroke-width="0.7"/>
<text x="107" y="395.85" font-size="6.8" fill="#555" text-anchor="end">0.50</text>
<line x1="107.3" y1="392.85" x2="110.4" y2="392.85" stroke="#333" stroke-width="0.7"/>
<text x="107" y="410.73" font-size="6.8" fill="#555" text-anchor="end">0.25</text>
<line x1="107.3" y1="407.73" x2="110.4" y2="407.73" stroke="#333" stroke-width="0.7"/>
<text x="107" y="425.60" font-size="6.8" fill="#555" text-anchor="end">0.00</text>
<line x1="107.3" y1="422.60" x2="110.4" y2="422.60" stroke="#333" stroke-width="0.7"/>
<text x="107" y="436.20" font-size="6.8" fill="#555" text-anchor="end">1.00</text>
<line x1="107.3" y1="433.20" x2="110.4" y2="433.20" stroke="#333" stroke-width="0.7"/>
<text x="107" y="451.07" font-size="6.8" fill="#555" text-anchor="end">0.75</text>
<line x1="107.3" y1="448.07" x2="110.4" y2="448.07" stroke="#333" stroke-width="0.7"/>
<text x="107" y="465.95" font-size="6.8" fill="#555" text-anchor="end">0.50</text>
<line x1="107.3" y1="462.95" x2="110.4" y2="462.95" stroke="#333" stroke-width="0.7"/>
<text x="107" y="480.82" font-size="6.8" fill="#555" text-anchor="end">0.25</text>
<line x1="107.3" y1="477.82" x2="110.4" y2="477.82" stroke="#333" stroke-width="0.7"/>
<text x="107" y="495.70" font-size="6.8" fill="#555" text-anchor="end">0.00</text>
<line x1="107.3" y1="492.70" x2="110.4" y2="492.70" stroke="#333" stroke-width="0.7"/>
<line x1="135.17" y1="495.7" x2="135.17" y2="498.3" stroke="#333" stroke-width="0.7"/>
<text x="135.17" y="505.6" font-size="6.8" fill="#555" text-anchor="middle">420</text>
<line x1="156.40" y1="495.7" x2="156.40" y2="498.3" stroke="#333" stroke-width="0.7"/>
<text x="156.40" y="505.6" font-size="6.8" fill="#555" text-anchor="middle">431</text>
<line x1="173.77" y1="495.7" x2="173.77" y2="498.3" stroke="#333" stroke-width="0.7"/>
<text x="173.77" y="505.6" font-size="6.8" fill="#555" text-anchor="middle">440</text>
<line x1="193.07" y1="495.7" x2="193.07" y2="498.3" stroke="#333" stroke-width="0.7"/>
<text x="193.07" y="505.6" font-size="6.8" fill="#555" text-anchor="middle">450</text>
<line x1="245.97" y1="495.7" x2="245.97" y2="498.3" stroke="#333" stroke-width="0.7"/>
<text x="245.97" y="505.6" font-size="6.8" fill="#555" text-anchor="middle">420</text>
<line x1="267.20" y1="495.7" x2="267.20" y2="498.3" stroke="#333" stroke-width="0.7"/>
<text x="267.20" y="505.6" font-size="6.8" fill="#555" text-anchor="middle">431</text>
<line x1="284.57" y1="495.7" x2="284.57" y2="498.3" stroke="#333" stroke-width="0.7"/>
<text x="284.57" y="505.6" font-size="6.8" fill="#555" text-anchor="middle">440</text>
<line x1="303.87" y1="495.7" x2="303.87" y2="498.3" stroke="#333" stroke-width="0.7"/>
<text x="303.87" y="505.6" font-size="6.8" fill="#555" text-anchor="middle">450</text>
<line x1="356.87" y1="495.7" x2="356.87" y2="498.3" stroke="#333" stroke-width="0.7"/>
<text x="356.87" y="505.6" font-size="6.8" fill="#555" text-anchor="middle">420</text>
<line x1="378.10" y1="495.7" x2="378.10" y2="498.3" stroke="#333" stroke-width="0.7"/>
<text x="378.10" y="505.6" font-size="6.8" fill="#555" text-anchor="middle">431</text>
<line x1="395.47" y1="495.7" x2="395.47" y2="498.3" stroke="#333" stroke-width="0.7"/>
<text x="395.47" y="505.6" font-size="6.8" fill="#555" text-anchor="middle">440</text>
<line x1="414.77" y1="495.7" x2="414.77" y2="498.3" stroke="#333" stroke-width="0.7"/>
<text x="414.77" y="505.6" font-size="6.8" fill="#555" text-anchor="middle">450</text>
<line x1="467.77" y1="495.7" x2="467.77" y2="498.3" stroke="#333" stroke-width="0.7"/>
<text x="467.77" y="505.6" font-size="6.8" fill="#555" text-anchor="middle">420</text>
<line x1="489.00" y1="495.7" x2="489.00" y2="498.3" stroke="#333" stroke-width="0.7"/>
<text x="489.00" y="505.6" font-size="6.8" fill="#555" text-anchor="middle">431</text>
<line x1="506.37" y1="495.7" x2="506.37" y2="498.3" stroke="#333" stroke-width="0.7"/>
<text x="506.37" y="505.6" font-size="6.8" fill="#555" text-anchor="middle">440</text>
<line x1="525.67" y1="495.7" x2="525.67" y2="498.3" stroke="#333" stroke-width="0.7"/>
<text x="525.67" y="505.6" font-size="6.8" fill="#555" text-anchor="middle">450</text>
<line x1="578.67" y1="495.7" x2="578.67" y2="498.3" stroke="#333" stroke-width="0.7"/>
<text x="578.67" y="505.6" font-size="6.8" fill="#555" text-anchor="middle">420</text>
<line x1="599.90" y1="495.7" x2="599.90" y2="498.3" stroke="#333" stroke-width="0.7"/>
<text x="599.90" y="505.6" font-size="6.8" fill="#555" text-anchor="middle">431</text>
<line x1="617.27" y1="495.7" x2="617.27" y2="498.3" stroke="#333" stroke-width="0.7"/>
<text x="617.27" y="505.6" font-size="6.8" fill="#555" text-anchor="middle">440</text>
<line x1="636.57" y1="495.7" x2="636.57" y2="498.3" stroke="#333" stroke-width="0.7"/>
<text x="636.57" y="505.6" font-size="6.8" fill="#555" text-anchor="middle">450</text>
<text transform="translate(91.5,392.6) rotate(-90)" font-size="11" fill="#000" text-anchor="middle">relative intensity</text>
<text transform="translate(676.6,395) rotate(-90)" font-size="12" font-weight="bold" fill="#000" text-anchor="middle" textLength="115.5" lengthAdjust="spacingAndGlyphs">Embryos/Replications</text>
<text x="310.3" y="515.7" font-size="10.5" fill="#000">target fragment size (base pairs)</text>
</g>
<defs>
<filter id="b05" x="-50%" y="-50%" width="200%" height="200%"><feGaussianBlur stdDeviation="0.6"/></filter>
<filter id="b1" x="-50%" y="-50%" width="200%" height="200%"><feGaussianBlur stdDeviation="1.0"/></filter>
<filter id="b15" x="-50%" y="-50%" width="200%" height="200%"><feGaussianBlur stdDeviation="1.6"/></filter>
<filter id="b2" x="-50%" y="-50%" width="200%" height="200%"><feGaussianBlur stdDeviation="2.5"/></filter>
<filter id="b3" x="-50%" y="-50%" width="200%" height="200%"><feGaussianBlur stdDeviation="3.2"/></filter>
<filter id="b4" x="-100%" y="-100%" width="300%" height="300%"><feGaussianBlur stdDeviation="4.5"/></filter>
<filter id="b6" x="-100%" y="-100%" width="300%" height="300%"><feGaussianBlur stdDeviation="6"/></filter>
<filter id="b8" x="-100%" y="-300%" width="300%" height="700%"><feGaussianBlur stdDeviation="8"/></filter>
<radialGradient id="emb" cx="55%" cy="58%" r="55%"><stop offset="0" stop-color="#A0BA9E"/><stop offset="0.5" stop-color="#92AC90"/><stop offset="0.8" stop-color="#7A8A66"/><stop offset="1" stop-color="#5A6044"/></radialGradient>
<radialGradient id="dk" cx="50%" cy="50%" r="50%"><stop offset="0" stop-color="#3C0E10"/><stop offset="0.85" stop-color="#3A0D0F"/><stop offset="1" stop-color="#300B0C"/></radialGradient>
<radialGradient id="dk2" cx="50%" cy="50%" r="50%"><stop offset="0" stop-color="#4C1114"/><stop offset="0.85" stop-color="#461013"/><stop offset="1" stop-color="#370C0E"/></radialGradient>
<radialGradient id="rimr" cx="50%" cy="50%" r="50%"><stop offset="0" stop-color="#6A1418"/><stop offset="0.8" stop-color="#581216"/><stop offset="1" stop-color="#3A0C0E"/></radialGradient>
<linearGradient id="vg" x1="0" y1="0" x2="0" y2="1"><stop offset="0" stop-color="#C42428"/><stop offset="0.4" stop-color="#D82A2E"/><stop offset="1" stop-color="#B02024"/></linearGradient>
<clipPath id="cb0"><rect x="0" y="611.2" width="204.3" height="93.6"/></clipPath>
<clipPath id="cr0"><rect x="207.2" y="611.2" width="204.6" height="93.6"/></clipPath>
<clipPath id="cb1"><rect x="0" y="707.2" width="204.3" height="93.3"/></clipPath>
<clipPath id="cr1"><rect x="207.2" y="707.2" width="204.6" height="93.3"/></clipPath>
<clipPath id="cb2"><rect x="0" y="803" width="204.3" height="93.5"/></clipPath>
<clipPath id="cr2"><rect x="207.2" y="803" width="204.6" height="93.5"/></clipPath>
<radialGradient id="softR"><stop offset="0" stop-color="#561418" stop-opacity="1"/><stop offset="1" stop-color="#561418" stop-opacity="0"/></radialGradient>
</defs>
<text x="7" y="570.4" font-size="33" font-weight="bold" fill="#231F20">C</text>
<text class="bk" x="68.9" y="565.7" font-size="13.6" font-weight="bold" fill="#231F20">brightfield</text>
<text class="bk" x="241" y="566" font-size="13.75" font-weight="bold" fill="#231F20">memRFP coinjection</text>
<text x="7.2" y="595.2" font-size="13.5" fill="#231F20">uninjected</text>
<text x="80.8" y="589.1" font-size="13.5" fill="#231F20">sgRNA</text>
<text x="89.4" y="604.7" font-size="13.5" fill="#231F20">only</text>
<text x="138.8" y="589" font-size="13.5" fill="#231F20">sgRNA</text>
<text x="139.2" y="605.2" font-size="13.5" fill="#231F20">+ Cas9</text>
<text x="217.3" y="595.2" font-size="13.5" fill="#231F20">uninjected</text>
<text x="291.2" y="588.3" font-size="13.5" fill="#231F20">sgRNA</text>
<text x="300" y="604.2" font-size="13.5" fill="#231F20">only</text>
<text x="348.9" y="588.3" font-size="13.5" fill="#231F20">sgRNA</text>
<text x="348.9" y="604.2" font-size="13.5" fill="#231F20">+ Cas9</text>
<g clip-path="url(#cb0)">
<rect x="0" y="611.2" width="204.3" height="93.6" fill="#578E7F"/>
<g filter="url(#b6)">
<ellipse cx="42" cy="624" rx="16" ry="10" fill="#9CD0BE"/>
<ellipse cx="74" cy="636" rx="9" ry="14" fill="#9CD0BE"/>
<ellipse cx="125" cy="618" rx="16" ry="9" fill="#9CD0BE"/>
<ellipse cx="191" cy="666" rx="12" ry="28" fill="#9CD0BE"/>
<ellipse cx="63" cy="700" rx="22" ry="7" fill="#9CD0BE"/>
<ellipse cx="145" cy="698" rx="24" ry="7" fill="#9CD0BE"/>
<ellipse cx="170" cy="616" rx="20" ry="6" fill="#9CD0BE"/>
<ellipse cx="6" cy="664" rx="12" ry="28" fill="#2A5449"/>
<ellipse cx="72" cy="673" rx="8" ry="22" fill="#2A5449"/>
<ellipse cx="135" cy="672" rx="5" ry="22" fill="#2A5449"/>
<ellipse cx="188" cy="698" rx="9" ry="7" fill="#2A5449"/>
<ellipse cx="45" cy="624" rx="16" ry="6" fill="#2A5449"/>
</g>
<g transform="translate(40.8,666.5) rotate(0)">
<path d="M27.00,0.00 L26.52,4.05 L25.61,8.02 L24.28,11.86 L22.56,15.50 L20.51,18.87 L18.15,21.92 L15.52,24.59 L12.68,26.85 L9.66,28.64 L6.52,29.94 L3.28,30.73 L0.00,31.00 L-3.28,30.73 L-6.52,29.94 L-9.66,28.64 L-12.68,26.85 L-15.52,24.59 L-18.15,21.92 L-20.51,18.87 L-22.56,15.50 L-24.28,11.86 L-25.61,8.02 L-26.52,4.05 L-27.00,0.00 L-27.01,-4.05 L-26.55,-8.02 L-25.61,-11.86 L-24.20,-15.50 L-22.33,-18.87 L-20.04,-21.92 L-17.35,-24.59 L-14.32,-26.85 L-11.00,-28.64 L-7.46,-29.94 L-3.77,-30.73 L-0.00,-31.00 L3.77,-30.73 L7.46,-29.94 L11.00,-28.64 L14.32,-26.85 L17.35,-24.59 L20.04,-21.92 L22.33,-18.87 L24.20,-15.50 L25.61,-11.86 L26.55,-8.02 L27.01,-4.05Z" transform="translate(-1,2)" fill="#34665A" opacity="0.8" filter="url(#b2)"/>
<path d="M24.50,0.00 L24.07,3.72 L23.24,7.38 L22.03,10.91 L20.48,14.25 L18.61,17.35 L16.47,20.15 L14.09,22.61 L11.51,24.68 L8.77,26.33 L5.91,27.53 L2.98,28.26 L0.00,28.50 L-2.98,28.26 L-5.91,27.53 L-8.77,26.33 L-11.51,24.68 L-14.09,22.61 L-16.47,20.15 L-18.61,17.35 L-20.48,14.25 L-22.03,10.91 L-23.24,7.38 L-24.07,3.72 L-24.50,0.00 L-24.51,-3.72 L-24.09,-7.38 L-23.24,-10.91 L-21.96,-14.25 L-20.27,-17.35 L-18.18,-20.15 L-15.74,-22.61 L-12.99,-24.68 L-9.98,-26.33 L-6.77,-27.53 L-3.42,-28.26 L-0.00,-28.50 L3.42,-28.26 L6.77,-27.53 L9.98,-26.33 L12.99,-24.68 L15.74,-22.61 L18.18,-20.15 L20.27,-17.35 L21.96,-14.25 L23.24,-10.91 L24.09,-7.38 L24.51,-3.72Z" fill="url(#emb)" stroke="#5E6244" stroke-width="1.2" filter="url(#b05)"/>
</g>
<g transform="translate(106,664.5) rotate(0)">
<path d="M27.80,0.00 L27.31,3.98 L26.37,7.89 L25.00,11.67 L23.23,15.25 L21.12,18.57 L18.68,21.57 L15.98,24.20 L13.06,26.41 L9.95,28.18 L6.71,29.46 L3.38,30.24 L0.00,30.50 L-3.38,30.24 L-6.71,29.46 L-9.95,28.18 L-13.06,26.41 L-15.98,24.20 L-18.68,21.57 L-21.12,18.57 L-23.23,15.25 L-25.00,11.67 L-26.37,7.89 L-27.31,3.98 L-27.80,0.00 L-27.81,-3.98 L-27.34,-7.89 L-26.37,-11.67 L-24.92,-15.25 L-23.00,-18.57 L-20.63,-21.57 L-17.86,-24.20 L-14.74,-26.41 L-11.33,-28.18 L-7.68,-29.46 L-3.88,-30.24 L-0.00,-30.50 L3.88,-30.24 L7.68,-29.46 L11.33,-28.18 L14.74,-26.41 L17.86,-24.20 L20.63,-21.57 L23.00,-18.57 L24.92,-15.25 L26.37,-11.67 L27.34,-7.89 L27.81,-3.98Z" transform="translate(-1,2)" fill="#34665A" opacity="0.8" filter="url(#b2)"/>
<path d="M25.30,0.00 L24.85,3.65 L24.00,7.25 L22.75,10.72 L21.14,14.00 L19.22,17.05 L17.00,19.80 L14.55,22.21 L11.88,24.25 L9.06,25.87 L6.11,27.05 L3.07,27.76 L0.00,28.00 L-3.07,27.76 L-6.11,27.05 L-9.06,25.87 L-11.88,24.25 L-14.55,22.21 L-17.00,19.80 L-19.22,17.05 L-21.14,14.00 L-22.75,10.72 L-24.00,7.25 L-24.85,3.65 L-25.30,0.00 L-25.31,-3.65 L-24.88,-7.25 L-24.00,-10.72 L-22.68,-14.00 L-20.93,-17.05 L-18.78,-19.80 L-16.26,-22.21 L-13.42,-24.25 L-10.31,-25.87 L-6.99,-27.05 L-3.53,-27.76 L-0.00,-28.00 L3.53,-27.76 L6.99,-27.05 L10.31,-25.87 L13.42,-24.25 L16.26,-22.21 L18.78,-19.80 L20.93,-17.05 L22.68,-14.00 L24.00,-10.72 L24.88,-7.25 L25.31,-3.65Z" fill="url(#emb)" stroke="#5E6244" stroke-width="1.2" filter="url(#b05)"/>
</g>
<g transform="translate(158.3,660.3) rotate(0)">
<path d="M25.00,0.00 L24.56,3.79 L23.71,7.51 L22.48,11.10 L20.89,14.50 L18.99,17.65 L16.80,20.51 L14.37,23.01 L11.74,25.11 L8.95,26.79 L6.03,28.01 L3.04,28.75 L0.00,29.00 L-3.04,28.75 L-6.03,28.01 L-8.95,26.79 L-11.74,25.11 L-14.37,23.01 L-16.80,20.51 L-18.99,17.65 L-20.89,14.50 L-22.48,11.10 L-23.71,7.51 L-24.56,3.79 L-25.00,0.00 L-25.01,-3.79 L-24.59,-7.51 L-23.72,-11.10 L-22.41,-14.50 L-20.68,-17.65 L-18.55,-20.51 L-16.06,-23.01 L-13.26,-25.11 L-10.19,-26.79 L-6.91,-28.01 L-3.49,-28.75 L-0.00,-29.00 L3.49,-28.75 L6.91,-28.01 L10.19,-26.79 L13.26,-25.11 L16.06,-23.01 L18.55,-20.51 L20.68,-17.65 L22.41,-14.50 L23.72,-11.10 L24.59,-7.51 L25.01,-3.79Z" transform="translate(-1,2)" fill="#34665A" opacity="0.8" filter="url(#b2)"/>
<path d="M22.50,0.00 L22.10,3.46 L21.34,6.86 L20.23,10.14 L18.80,13.25 L17.09,16.13 L15.12,18.74 L12.94,21.02 L10.57,22.95 L8.05,24.48 L5.43,25.60 L2.73,26.27 L0.00,26.50 L-2.73,26.27 L-5.43,25.60 L-8.05,24.48 L-10.57,22.95 L-12.94,21.02 L-15.12,18.74 L-17.09,16.13 L-18.80,13.25 L-20.23,10.14 L-21.34,6.86 L-22.10,3.46 L-22.50,0.00 L-22.51,-3.46 L-22.13,-6.86 L-21.34,-10.14 L-20.17,-13.25 L-18.61,-16.13 L-16.70,-18.74 L-14.46,-21.02 L-11.93,-22.95 L-9.17,-24.48 L-6.22,-25.60 L-3.14,-26.27 L-0.00,-26.50 L3.14,-26.27 L6.22,-25.60 L9.17,-24.48 L11.93,-22.95 L14.46,-21.02 L16.70,-18.74 L18.61,-16.13 L20.17,-13.25 L21.34,-10.14 L22.13,-6.86 L22.51,-3.46Z" fill="url(#emb)" stroke="#5E6244" stroke-width="1.2" filter="url(#b05)"/>
</g>
<circle cx="68.3" cy="622" r="1.6" fill="#1E3A34" filter="url(#b1)"/>
<path d="M96,640 Q106,636 116,641" fill="none" stroke="#4E5438" stroke-width="1.6" opacity="0.65" filter="url(#b1)"/>
</g>
<g clip-path="url(#cb1)">
<rect x="0" y="707.2" width="204.3" height="93.3" fill="#578E7F"/>
<g filter="url(#b6)">
<ellipse cx="40" cy="712" rx="18" ry="6" fill="#9CD0BE"/>
<ellipse cx="76" cy="730" rx="8" ry="14" fill="#9CD0BE"/>
<ellipse cx="120" cy="713" rx="20" ry="8" fill="#9CD0BE"/>
<ellipse cx="192" cy="762" rx="10" ry="30" fill="#9CD0BE"/>
<ellipse cx="60" cy="797" rx="22" ry="6" fill="#9CD0BE"/>
<ellipse cx="140" cy="796" rx="26" ry="7" fill="#9CD0BE"/>
<ellipse cx="180" cy="712" rx="16" ry="6" fill="#9CD0BE"/>
<ellipse cx="6" cy="755" rx="12" ry="30" fill="#2A5449"/>
<ellipse cx="72" cy="765" rx="8" ry="26" fill="#2A5449"/>
<ellipse cx="135" cy="765" rx="5" ry="26" fill="#2A5449"/>
<ellipse cx="192" cy="790" rx="9" ry="9" fill="#2A5449"/>
<ellipse cx="48" cy="727" rx="14" ry="4" fill="#2A5449"/>
</g>
<g transform="translate(40,757.8) rotate(-4)">
<path d="M27.20,0.00 L26.72,4.11 L25.80,8.15 L24.46,12.05 L22.73,15.75 L20.66,19.18 L18.28,22.27 L15.64,24.99 L12.78,27.28 L9.74,29.10 L6.56,30.43 L3.30,31.23 L0.00,31.50 L-3.30,31.23 L-6.56,30.43 L-9.74,29.10 L-12.78,27.28 L-15.64,24.99 L-18.28,22.27 L-20.66,19.18 L-22.73,15.75 L-24.46,12.05 L-25.80,8.15 L-26.72,4.11 L-27.20,0.00 L-27.21,-4.11 L-26.75,-8.15 L-25.80,-12.05 L-24.38,-15.75 L-22.50,-19.18 L-20.19,-22.27 L-17.48,-24.99 L-14.42,-27.28 L-11.08,-29.10 L-7.52,-30.43 L-3.80,-31.23 L-0.00,-31.50 L3.80,-31.23 L7.52,-30.43 L11.08,-29.10 L14.42,-27.28 L17.48,-24.99 L20.19,-22.27 L22.50,-19.18 L24.38,-15.75 L25.80,-12.05 L26.75,-8.15 L27.21,-4.11Z" transform="translate(-1,2)" fill="#34665A" opacity="0.8" filter="url(#b2)"/>
<path d="M24.70,0.00 L24.26,3.79 L23.43,7.51 L22.21,11.10 L20.64,14.50 L18.76,17.65 L16.60,20.51 L14.20,23.01 L11.60,25.11 L8.84,26.79 L5.96,28.01 L3.00,28.75 L0.00,29.00 L-3.00,28.75 L-5.96,28.01 L-8.84,26.79 L-11.60,25.11 L-14.20,23.01 L-16.60,20.51 L-18.76,17.65 L-20.64,14.50 L-22.21,11.10 L-23.43,7.51 L-24.26,3.79 L-24.70,0.00 L-24.71,-3.79 L-24.29,-7.51 L-23.43,-11.10 L-22.14,-14.50 L-20.43,-17.65 L-18.33,-20.51 L-15.87,-23.01 L-13.10,-25.11 L-10.06,-26.79 L-6.83,-28.01 L-3.45,-28.75 L-0.00,-29.00 L3.45,-28.75 L6.83,-28.01 L10.06,-26.79 L13.10,-25.11 L15.87,-23.01 L18.33,-20.51 L20.43,-17.65 L22.14,-14.50 L23.43,-11.10 L24.29,-7.51 L24.71,-3.79Z" fill="url(#emb)" stroke="#5E6244" stroke-width="1.2" filter="url(#b05)"/>
</g>
<g transform="translate(107.7,759.8) rotate(0)">
<path d="M28.00,0.00 L27.51,4.15 L26.56,8.23 L25.18,12.17 L23.40,15.90 L21.27,19.36 L18.82,22.49 L16.10,25.23 L13.15,27.54 L10.02,29.38 L6.76,30.72 L3.40,31.53 L0.00,31.80 L-3.40,31.53 L-6.76,30.72 L-10.02,29.38 L-13.15,27.54 L-16.10,25.23 L-18.82,22.49 L-21.27,19.36 L-23.40,15.90 L-25.18,12.17 L-26.56,8.23 L-27.51,4.15 L-28.00,0.00 L-28.01,-4.15 L-27.54,-8.23 L-26.56,-12.17 L-25.10,-15.90 L-23.16,-19.36 L-20.78,-22.49 L-17.99,-25.23 L-14.85,-27.54 L-11.41,-29.38 L-7.74,-30.72 L-3.91,-31.53 L-0.00,-31.80 L3.91,-31.53 L7.74,-30.72 L11.41,-29.38 L14.85,-27.54 L17.99,-25.23 L20.78,-22.49 L23.16,-19.36 L25.10,-15.90 L26.56,-12.17 L27.54,-8.23 L28.01,-4.15Z" transform="translate(-1,2)" fill="#34665A" opacity="0.8" filter="url(#b2)"/>
<path d="M25.50,0.00 L25.05,3.82 L24.18,7.58 L22.93,11.21 L21.31,14.65 L19.37,17.84 L17.14,20.72 L14.66,23.25 L11.98,25.37 L9.13,27.07 L6.15,28.30 L3.10,29.05 L0.00,29.30 L-3.10,29.05 L-6.15,28.30 L-9.13,27.07 L-11.98,25.37 L-14.66,23.25 L-17.14,20.72 L-19.37,17.84 L-21.31,14.65 L-22.93,11.21 L-24.18,7.58 L-25.05,3.82 L-25.50,0.00 L-25.51,-3.82 L-25.08,-7.58 L-24.19,-11.21 L-22.86,-14.65 L-21.09,-17.84 L-18.92,-20.72 L-16.39,-23.25 L-13.52,-25.37 L-10.39,-27.07 L-7.05,-28.30 L-3.56,-29.05 L-0.00,-29.30 L3.56,-29.05 L7.05,-28.30 L10.39,-27.07 L13.52,-25.37 L16.39,-23.25 L18.92,-20.72 L21.09,-17.84 L22.86,-14.65 L24.19,-11.21 L25.08,-7.58 L25.51,-3.82Z" fill="url(#emb)" stroke="#5E6244" stroke-width="1.2" filter="url(#b05)"/>
</g>
<g transform="translate(160,751) rotate(8)">
<path d="M26.20,0.00 L25.74,4.20 L24.85,8.33 L23.56,12.32 L21.90,16.10 L19.90,19.60 L17.61,22.77 L15.06,25.55 L12.31,27.89 L9.38,29.75 L6.32,31.10 L3.18,31.92 L0.00,32.20 L-3.18,31.92 L-6.32,31.10 L-9.38,29.75 L-12.31,27.89 L-15.06,25.55 L-17.61,22.77 L-19.90,19.60 L-21.90,16.10 L-23.56,12.32 L-24.85,8.33 L-25.74,4.20 L-26.20,0.00 L-26.21,-4.20 L-25.77,-8.33 L-24.85,-12.32 L-23.48,-16.10 L-21.67,-19.60 L-19.44,-22.77 L-16.84,-25.55 L-13.89,-27.89 L-10.67,-29.75 L-7.24,-31.10 L-3.66,-31.92 L-0.00,-32.20 L3.66,-31.92 L7.24,-31.10 L10.67,-29.75 L13.89,-27.89 L16.84,-25.55 L19.44,-22.77 L21.67,-19.60 L23.48,-16.10 L24.85,-12.32 L25.77,-8.33 L26.21,-4.20Z" transform="translate(-1,2)" fill="#34665A" opacity="0.8" filter="url(#b2)"/>
<path d="M23.70,0.00 L23.28,3.88 L22.48,7.69 L21.31,11.37 L19.81,14.85 L18.00,18.08 L15.93,21.00 L13.63,23.56 L11.13,25.72 L8.48,27.44 L5.72,28.69 L2.88,29.45 L0.00,29.70 L-2.88,29.45 L-5.72,28.69 L-8.48,27.44 L-11.13,25.72 L-13.63,23.56 L-15.93,21.00 L-18.00,18.08 L-19.81,14.85 L-21.31,11.37 L-22.48,7.69 L-23.28,3.88 L-23.70,0.00 L-23.71,-3.88 L-23.31,-7.69 L-22.48,-11.37 L-21.24,-14.85 L-19.60,-18.08 L-17.59,-21.00 L-15.23,-23.56 L-12.57,-25.72 L-9.66,-27.44 L-6.55,-28.69 L-3.31,-29.45 L-0.00,-29.70 L3.31,-29.45 L6.55,-28.69 L9.66,-27.44 L12.57,-25.72 L15.23,-23.56 L17.59,-21.00 L19.60,-18.08 L21.24,-14.85 L22.48,-11.37 L23.31,-7.69 L23.71,-3.88Z" fill="url(#emb)" stroke="#5E6244" stroke-width="1.2" filter="url(#b05)"/>
</g>
<circle cx="67.8" cy="717.9" r="1.6" fill="#1E3A34" filter="url(#b1)"/>
<path d="M36.4,746.6 Q41,764 46.2,781.5" fill="none" stroke="#4E5438" stroke-width="1.6" opacity="0.65" filter="url(#b1)"/>
<path d="M42,745 Q45,763 48.3,781.5" fill="none" stroke="#4E5438" stroke-width="1.6" opacity="0.65" filter="url(#b1)"/>
<path d="M103,740 Q106,764 108.6,786.8" fill="none" stroke="#4E5438" stroke-width="1.6" opacity="0.65" filter="url(#b1)"/>
<path d="M158.8,734 Q162,758 164.3,781" fill="none" stroke="#4E5438" stroke-width="1.6" opacity="0.65" filter="url(#b1)"/>
<path d="M150.4,748 Q152,765 156,778" fill="none" stroke="#4E5438" stroke-width="1.6" opacity="0.65" filter="url(#b1)"/>
</g>
<g clip-path="url(#cb2)">
<rect x="0" y="803" width="204.3" height="93.5" fill="#578E7F"/>
<g filter="url(#b6)">
<ellipse cx="60" cy="808" rx="20" ry="6" fill="#9CD0BE"/>
<ellipse cx="77" cy="826" rx="8" ry="14" fill="#9CD0BE"/>
<ellipse cx="125" cy="808" rx="22" ry="8" fill="#9CD0BE"/>
<ellipse cx="196" cy="850" rx="8" ry="28" fill="#9CD0BE"/>
<ellipse cx="60" cy="893" rx="22" ry="6" fill="#9CD0BE"/>
<ellipse cx="140" cy="893" rx="26" ry="6" fill="#9CD0BE"/>
<ellipse cx="185" cy="895" rx="14" ry="5" fill="#9CD0BE"/>
<ellipse cx="5" cy="852" rx="10" ry="34" fill="#2A5449"/>
<ellipse cx="72" cy="860" rx="8" ry="28" fill="#2A5449"/>
<ellipse cx="136" cy="860" rx="6" ry="28" fill="#2A5449"/>
<ellipse cx="195" cy="885" rx="9" ry="9" fill="#2A5449"/>
<ellipse cx="30" cy="806" rx="20" ry="5" fill="#2A5449"/>
</g>
<g transform="translate(35.5,852.9) rotate(-8)">
<path d="M28.30,0.00 L27.80,4.59 L26.84,9.11 L25.45,13.47 L23.65,17.60 L21.50,21.43 L19.02,24.89 L16.27,27.93 L13.29,30.48 L10.13,32.52 L6.83,34.00 L3.44,34.90 L0.00,35.20 L-3.44,34.90 L-6.83,34.00 L-10.13,32.52 L-13.29,30.48 L-16.27,27.93 L-19.02,24.89 L-21.50,21.43 L-23.65,17.60 L-25.45,13.47 L-26.84,9.11 L-27.80,4.59 L-28.30,0.00 L-28.31,-4.59 L-27.83,-9.11 L-26.85,-13.47 L-25.37,-17.60 L-23.41,-21.43 L-21.00,-24.89 L-18.18,-27.93 L-15.01,-30.48 L-11.53,-32.52 L-7.82,-34.00 L-3.95,-34.90 L-0.00,-35.20 L3.95,-34.90 L7.82,-34.00 L11.53,-32.52 L15.01,-30.48 L18.18,-27.93 L21.00,-24.89 L23.41,-21.43 L25.37,-17.60 L26.85,-13.47 L27.83,-9.11 L28.31,-4.59Z" transform="translate(-1,2)" fill="#34665A" opacity="0.8" filter="url(#b2)"/>
<path d="M25.80,0.00 L25.35,4.27 L24.47,8.46 L23.20,12.51 L21.56,16.35 L19.60,19.91 L17.34,23.12 L14.83,25.94 L12.12,28.32 L9.23,30.21 L6.23,31.59 L3.13,32.42 L0.00,32.70 L-3.13,32.42 L-6.23,31.59 L-9.23,30.21 L-12.12,28.32 L-14.83,25.94 L-17.34,23.12 L-19.60,19.91 L-21.56,16.35 L-23.20,12.51 L-24.47,8.46 L-25.35,4.27 L-25.80,0.00 L-25.81,-4.27 L-25.37,-8.46 L-24.47,-12.51 L-23.13,-16.35 L-21.34,-19.91 L-19.15,-23.12 L-16.58,-25.94 L-13.68,-28.32 L-10.51,-30.21 L-7.13,-31.59 L-3.60,-32.42 L-0.00,-32.70 L3.60,-32.42 L7.13,-31.59 L10.51,-30.21 L13.68,-28.32 L16.58,-25.94 L19.15,-23.12 L21.34,-19.91 L23.13,-16.35 L24.47,-12.51 L25.37,-8.46 L25.81,-4.27Z" fill="url(#emb)" stroke="#5E6244" stroke-width="1.2" filter="url(#b05)"/>
</g>
<g transform="translate(108.9,854.3) rotate(0)">
<path d="M30.10,0.00 L29.57,4.79 L28.55,9.50 L27.06,14.04 L25.16,18.35 L22.86,22.34 L20.23,25.95 L17.31,29.12 L14.14,31.78 L10.77,33.91 L7.26,35.45 L3.66,36.39 L0.00,36.70 L-3.66,36.39 L-7.26,35.45 L-10.77,33.91 L-14.14,31.78 L-17.31,29.12 L-20.23,25.95 L-22.86,22.34 L-25.16,18.35 L-27.06,14.04 L-28.55,9.50 L-29.57,4.79 L-30.10,0.00 L-30.12,-4.79 L-29.60,-9.50 L-28.55,-14.04 L-26.98,-18.35 L-24.90,-22.34 L-22.34,-25.95 L-19.34,-29.12 L-15.96,-31.78 L-12.26,-33.91 L-8.32,-35.45 L-4.20,-36.39 L-0.00,-36.70 L4.20,-36.39 L8.32,-35.45 L12.26,-33.91 L15.96,-31.78 L19.34,-29.12 L22.34,-25.95 L24.90,-22.34 L26.98,-18.35 L28.55,-14.04 L29.60,-9.50 L30.12,-4.79Z" transform="translate(-1,2)" fill="#34665A" opacity="0.8" filter="url(#b2)"/>
<path d="M27.60,0.00 L27.11,4.46 L26.18,8.85 L24.82,13.09 L23.07,17.10 L20.96,20.82 L18.55,24.18 L15.87,27.13 L12.96,29.62 L9.88,31.60 L6.66,33.03 L3.35,33.91 L0.00,34.20 L-3.35,33.91 L-6.66,33.03 L-9.88,31.60 L-12.96,29.62 L-15.87,27.13 L-18.55,24.18 L-20.96,20.82 L-23.07,17.10 L-24.82,13.09 L-26.18,8.85 L-27.11,4.46 L-27.60,0.00 L-27.61,-4.46 L-27.14,-8.85 L-26.18,-13.09 L-24.74,-17.10 L-22.83,-20.82 L-20.48,-24.18 L-17.73,-27.13 L-14.64,-29.62 L-11.25,-31.60 L-7.63,-33.03 L-3.85,-33.91 L-0.00,-34.20 L3.85,-33.91 L7.63,-33.03 L11.25,-31.60 L14.64,-29.62 L17.73,-27.13 L20.48,-24.18 L22.83,-20.82 L24.74,-17.10 L26.18,-13.09 L27.14,-8.85 L27.61,-4.46Z" fill="url(#emb)" stroke="#5E6244" stroke-width="1.2" filter="url(#b05)"/>
</g>
<g transform="translate(165.7,841) rotate(22)">
<path d="M25.00,0.00 L24.56,5.03 L23.71,9.96 L22.48,14.73 L20.89,19.25 L18.99,23.44 L16.80,27.22 L14.37,30.54 L11.74,33.34 L8.95,35.57 L6.03,37.19 L3.04,38.17 L0.00,38.50 L-3.04,38.17 L-6.03,37.19 L-8.95,35.57 L-11.74,33.34 L-14.37,30.54 L-16.80,27.22 L-18.99,23.44 L-20.89,19.25 L-22.48,14.73 L-23.71,9.96 L-24.56,5.03 L-25.00,0.00 L-25.01,-5.03 L-24.59,-9.96 L-23.72,-14.73 L-22.41,-19.25 L-20.68,-23.44 L-18.55,-27.22 L-16.06,-30.54 L-13.26,-33.34 L-10.19,-35.57 L-6.91,-37.19 L-3.49,-38.17 L-0.00,-38.50 L3.49,-38.17 L6.91,-37.19 L10.19,-35.57 L13.26,-33.34 L16.06,-30.54 L18.55,-27.22 L20.68,-23.44 L22.41,-19.25 L23.72,-14.73 L24.59,-9.96 L25.01,-5.03Z" transform="translate(-1,2)" fill="#34665A" opacity="0.8" filter="url(#b2)"/>
<path d="M22.50,0.00 L22.10,4.70 L21.34,9.32 L20.23,13.78 L18.80,18.00 L17.09,21.92 L15.12,25.46 L12.94,28.56 L10.57,31.18 L8.05,33.26 L5.43,34.77 L2.73,35.69 L0.00,36.00 L-2.73,35.69 L-5.43,34.77 L-8.05,33.26 L-10.57,31.18 L-12.94,28.56 L-15.12,25.46 L-17.09,21.92 L-18.80,18.00 L-20.23,13.78 L-21.34,9.32 L-22.10,4.70 L-22.50,0.00 L-22.51,-4.70 L-22.13,-9.32 L-21.34,-13.78 L-20.17,-18.00 L-18.61,-21.92 L-16.70,-25.46 L-14.46,-28.56 L-11.93,-31.18 L-9.17,-33.26 L-6.22,-34.77 L-3.14,-35.69 L-0.00,-36.00 L3.14,-35.69 L6.22,-34.77 L9.17,-33.26 L11.93,-31.18 L14.46,-28.56 L16.70,-25.46 L18.61,-21.92 L20.17,-18.00 L21.34,-13.78 L22.13,-9.32 L22.51,-4.70Z" fill="url(#emb)" stroke="#5E6244" stroke-width="1.2" filter="url(#b05)"/>
</g>
<circle cx="65.5" cy="812.5" r="1.6" fill="#1E3A34" filter="url(#b1)"/>
<path d="M27.9,827 Q33,858 41.8,881.4" fill="none" stroke="#4E5438" stroke-width="1.6" opacity="0.65" filter="url(#b1)"/>
<path d="M52.9,838 Q48,860 44.6,881.4" fill="none" stroke="#4E5438" stroke-width="1.6" opacity="0.65" filter="url(#b1)"/>
<path d="M104.5,825.7 Q107,856 110,885.6" fill="none" stroke="#4E5438" stroke-width="1.6" opacity="0.65" filter="url(#b1)"/>
<path d="M167.1,816 Q163,845 156,871.6" fill="none" stroke="#4E5438" stroke-width="1.6" opacity="0.65" filter="url(#b1)"/>
<path d="M178.3,827 Q174,850 167.1,869" fill="none" stroke="#4E5438" stroke-width="1.6" opacity="0.65" filter="url(#b1)"/>
</g>
<g clip-path="url(#cr0)">
<rect x="207.2" y="611.2" width="204.6" height="93.6" fill="#6E101A"/>
<ellipse cx="395" cy="619.2" rx="55" ry="22" fill="url(#softR)"/>
<ellipse cx="250" cy="615.2" rx="50" ry="16" fill="url(#softR)" opacity="0.6"/>
<g transform="translate(248.5,665) rotate(0)">
<path d="M26.50,0.00 L25.93,3.72 L24.93,7.38 L23.55,10.91 L21.80,14.25 L19.74,17.35 L17.41,20.15 L14.85,22.61 L12.10,24.68 L9.20,26.33 L6.20,27.53 L3.12,28.26 L0.00,28.50 L-3.12,28.26 L-6.20,27.53 L-9.20,26.33 L-12.10,24.68 L-14.85,22.61 L-17.41,20.15 L-19.74,17.35 L-21.80,14.25 L-23.55,10.91 L-24.93,7.38 L-25.93,3.72 L-26.50,0.00 L-26.62,-3.72 L-26.26,-7.38 L-25.42,-10.91 L-24.10,-14.25 L-22.30,-17.35 L-20.06,-20.15 L-17.41,-22.61 L-14.40,-24.68 L-11.08,-26.33 L-7.52,-27.53 L-3.80,-28.26 L-0.00,-28.50 L3.80,-28.26 L7.52,-27.53 L11.08,-26.33 L14.40,-24.68 L17.41,-22.61 L20.06,-20.15 L22.30,-17.35 L24.10,-14.25 L25.42,-10.91 L26.26,-7.38 L26.62,-3.72Z" fill="#360C0E" stroke="#2E0A0C" stroke-width="2.2" filter="url(#b15)"/>
</g>
<g transform="translate(312.6,663.6) rotate(0)">
<path d="M23.20,0.00 L22.70,3.60 L21.83,7.14 L20.61,10.56 L19.09,13.80 L17.29,16.80 L15.24,19.52 L13.00,21.90 L10.60,23.90 L8.06,25.50 L5.42,26.66 L2.73,27.36 L0.00,27.60 L-2.73,27.36 L-5.42,26.66 L-8.06,25.50 L-10.60,23.90 L-13.00,21.90 L-15.24,19.52 L-17.29,16.80 L-19.09,13.80 L-20.61,10.56 L-21.83,7.14 L-22.70,3.60 L-23.20,0.00 L-23.30,-3.60 L-22.99,-7.14 L-22.25,-10.56 L-21.10,-13.80 L-19.53,-16.80 L-17.56,-19.52 L-15.24,-21.90 L-12.60,-23.90 L-9.70,-25.50 L-6.58,-26.66 L-3.33,-27.36 L-0.00,-27.60 L3.33,-27.36 L6.58,-26.66 L9.70,-25.50 L12.60,-23.90 L15.24,-21.90 L17.56,-19.52 L19.53,-16.80 L21.10,-13.80 L22.25,-10.56 L22.99,-7.14 L23.30,-3.60Z" fill="#4C1114" stroke="#2E0A0C" stroke-width="2.2" filter="url(#b15)"/>
</g>
<g transform="translate(366.5,661.4) rotate(0)">
<path d="M21.60,0.00 L21.14,3.32 L20.32,6.57 L19.19,9.72 L17.77,12.70 L16.09,15.46 L14.19,17.96 L12.11,20.15 L9.86,22.00 L7.50,23.47 L5.05,24.53 L2.54,25.18 L0.00,25.40 L-2.54,25.18 L-5.05,24.53 L-7.50,23.47 L-9.86,22.00 L-12.11,20.15 L-14.19,17.96 L-16.09,15.46 L-17.77,12.70 L-19.19,9.72 L-20.32,6.57 L-21.14,3.32 L-21.60,0.00 L-21.69,-3.32 L-21.40,-6.57 L-20.72,-9.72 L-19.64,-12.70 L-18.18,-15.46 L-16.35,-17.96 L-14.19,-20.15 L-11.74,-22.00 L-9.03,-23.47 L-6.13,-24.53 L-3.10,-25.18 L-0.00,-25.40 L3.10,-25.18 L6.13,-24.53 L9.03,-23.47 L11.74,-22.00 L14.19,-20.15 L16.35,-17.96 L18.18,-15.46 L19.64,-12.70 L20.72,-9.72 L21.40,-6.57 L21.69,-3.32Z" fill="#4C1114" stroke="#2E0A0C" stroke-width="2.2" filter="url(#b15)"/>
</g>
<path d="M298.48,650.0112 C299.57,647.15 303.61,645.90 307.02,645.79 C310.42,645.68 314.95,649.23 318.90,649.34 C322.84,649.45 328.94,644.19 330.69,646.46 C332.43,648.73 330.45,657.60 329.37,662.97 C328.28,668.35 325.80,674.41 324.18,678.72 C322.55,683.02 321.14,687.36 319.60,688.80 C318.06,690.24 316.81,689.76 314.94,687.36 C313.06,684.96 310.74,678.46 308.34,674.40 C305.93,670.33 302.15,667.04 300.50,662.97 C298.86,658.91 297.39,652.88 298.48,650.01Z" fill="#C4262C" opacity="0.92" filter="url(#b3)"/>
<path d="M352.8715,645.6895 C354.84,643.07 363.37,643.77 368.62,644.25 C373.87,644.73 382.40,645.23 384.38,648.57 C386.36,651.91 382.25,659.55 380.50,664.31 C378.76,669.08 376.21,673.96 373.90,677.18 C371.60,680.39 368.89,684.09 366.69,683.61 C364.49,683.13 362.35,678.23 360.70,674.30 C359.06,670.36 358.14,664.76 356.83,659.99 C355.53,655.23 350.91,648.31 352.87,645.69Z" fill="#C4262C" opacity="0.8" filter="url(#b3)"/>
<path d="M319,650 L319.5,668" fill="none" stroke="#6A1418" stroke-width="3.5" opacity="0.7" filter="url(#b2)"/>
<circle cx="275.8" cy="622.1" r="1.6" fill="#220708" filter="url(#b1)"/>
<circle cx="267.8" cy="619.2" r="1.3" fill="#C02A2E" filter="url(#b1)"/>
<circle cx="290.5" cy="621.2" r="1.3" fill="#C02A2E" filter="url(#b1)"/>
<circle cx="299.1" cy="697.8" r="1.3" fill="#C02A2E" filter="url(#b1)"/>
<circle cx="387.6" cy="700.8" r="1.3" fill="#C02A2E" filter="url(#b1)"/>
</g>
<g clip-path="url(#cr1)">
<rect x="207.2" y="707.2" width="204.6" height="93.3" fill="#6E101A"/>
<ellipse cx="395" cy="715.2" rx="55" ry="22" fill="url(#softR)"/>
<ellipse cx="250" cy="711.2" rx="50" ry="16" fill="url(#softR)" opacity="0.6"/>
<g transform="translate(247,758) rotate(-4)">
<path d="M25.00,0.00 L24.46,3.82 L23.52,7.58 L22.21,11.21 L20.57,14.65 L18.63,17.84 L16.43,20.72 L14.01,23.25 L11.42,25.37 L8.68,27.07 L5.85,28.30 L2.94,29.05 L0.00,29.30 L-2.94,29.05 L-5.85,28.30 L-8.68,27.07 L-11.42,25.37 L-14.01,23.25 L-16.43,20.72 L-18.63,17.84 L-20.57,14.65 L-22.21,11.21 L-23.52,7.58 L-24.46,3.82 L-25.00,0.00 L-25.11,-3.82 L-24.77,-7.58 L-23.98,-11.21 L-22.73,-14.65 L-21.04,-17.84 L-18.93,-20.72 L-16.43,-23.25 L-13.58,-25.37 L-10.45,-27.07 L-7.10,-28.30 L-3.59,-29.05 L-0.00,-29.30 L3.59,-29.05 L7.10,-28.30 L10.45,-27.07 L13.58,-25.37 L16.43,-23.25 L18.93,-20.72 L21.04,-17.84 L22.73,-14.65 L23.98,-11.21 L24.77,-7.58 L25.11,-3.82Z" fill="#461013" stroke="#2E0A0C" stroke-width="2.2" filter="url(#b15)"/>
</g>
<g transform="translate(312.7,759.8) rotate(0)">
<path d="M23.20,0.00 L22.70,3.71 L21.83,7.35 L20.61,10.87 L19.09,14.20 L17.29,17.29 L15.24,20.08 L13.00,22.53 L10.60,24.60 L8.06,26.24 L5.42,27.43 L2.73,28.16 L0.00,28.40 L-2.73,28.16 L-5.42,27.43 L-8.06,26.24 L-10.60,24.60 L-13.00,22.53 L-15.24,20.08 L-17.29,17.29 L-19.09,14.20 L-20.61,10.87 L-21.83,7.35 L-22.70,3.71 L-23.20,0.00 L-23.30,-3.71 L-22.99,-7.35 L-22.25,-10.87 L-21.10,-14.20 L-19.53,-17.29 L-17.56,-20.08 L-15.24,-22.53 L-12.60,-24.60 L-9.70,-26.24 L-6.58,-27.43 L-3.33,-28.16 L-0.00,-28.40 L3.33,-28.16 L6.58,-27.43 L9.70,-26.24 L12.60,-24.60 L15.24,-22.53 L17.56,-20.08 L19.53,-17.29 L21.10,-14.20 L22.25,-10.87 L22.99,-7.35 L23.30,-3.71Z" fill="#4C1114" stroke="#2E0A0C" stroke-width="2.2" filter="url(#b15)"/>
</g>
<g transform="translate(366.5,750.9) rotate(5)">
<path d="M23.10,0.00 L22.60,3.90 L21.74,7.74 L20.52,11.44 L19.00,14.95 L17.21,18.20 L15.18,21.14 L12.95,23.72 L10.55,25.89 L8.02,27.62 L5.40,28.88 L2.72,29.64 L0.00,29.90 L-2.72,29.64 L-5.40,28.88 L-8.02,27.62 L-10.55,25.89 L-12.95,23.72 L-15.18,21.14 L-17.21,18.20 L-19.00,14.95 L-20.52,11.44 L-21.74,7.74 L-22.60,3.90 L-23.10,0.00 L-23.20,-3.90 L-22.89,-7.74 L-22.16,-11.44 L-21.01,-14.95 L-19.44,-18.20 L-17.49,-21.14 L-15.18,-23.72 L-12.55,-25.89 L-9.66,-27.62 L-6.56,-28.88 L-3.31,-29.64 L-0.00,-29.90 L3.31,-29.64 L6.56,-28.88 L9.66,-27.62 L12.55,-25.89 L15.18,-23.72 L17.49,-21.14 L19.44,-18.20 L21.01,-14.95 L22.16,-11.44 L22.89,-7.74 L23.20,-3.90Z" fill="#4C1114" stroke="#2E0A0C" stroke-width="2.2" filter="url(#b15)"/>
</g>
<path d="M299.7985,738.108 C300.66,734.25 309.55,736.78 312.29,736.67 C315.04,736.56 313.85,736.72 316.25,737.44 C318.66,738.16 325.41,737.29 326.73,740.99 C328.05,744.68 325.26,752.43 324.17,759.61 C323.09,766.80 321.75,780.01 320.21,784.09 C318.67,788.17 317.12,788.14 314.93,784.09 C312.75,780.04 309.63,767.47 307.10,759.80 C304.58,752.14 298.93,741.96 299.80,738.11Z" fill="#C4262C" opacity="0.92" filter="url(#b3)"/>
<path d="M359.80649999999997,726.3395 C362.01,723.00 369.94,724.42 374.33,724.90 C378.71,725.38 384.37,725.88 386.12,729.22 C387.86,732.56 386.32,739.24 384.80,744.96 C383.27,750.69 380.13,758.45 376.97,763.59 C373.80,768.72 367.99,776.02 365.79,775.78 C363.59,775.54 364.54,767.28 363.77,762.15 C362.99,757.01 361.79,750.93 361.13,744.96 C360.47,739.00 357.61,729.68 359.81,726.34Z" fill="#C4262C" opacity="0.8" filter="url(#b3)"/>
<path d="M314.5,737 L316,768" fill="none" stroke="#6A1418" stroke-width="3.5" opacity="0.7" filter="url(#b2)"/>
<circle cx="275.8" cy="717.8" r="1.6" fill="#220708" filter="url(#b1)"/>
<circle cx="267.8" cy="715.2" r="1.3" fill="#C02A2E" filter="url(#b1)"/>
<circle cx="290.5" cy="717.2" r="1.3" fill="#C02A2E" filter="url(#b1)"/>
<circle cx="299.1" cy="793.5" r="1.3" fill="#C02A2E" filter="url(#b1)"/>
<circle cx="387.6" cy="796.5" r="1.3" fill="#C02A2E" filter="url(#b1)"/>
</g>
<g clip-path="url(#cr2)">
<rect x="207.2" y="803" width="204.6" height="93.5" fill="#6E101A"/>
<ellipse cx="395" cy="811" rx="55" ry="22" fill="url(#softR)"/>
<ellipse cx="250" cy="807" rx="50" ry="16" fill="url(#softR)" opacity="0.6"/>
<g transform="translate(242.5,852) rotate(-8)">
<path d="M25.80,0.00 L25.25,4.37 L24.28,8.67 L22.92,12.82 L21.23,16.75 L19.22,20.39 L16.95,23.69 L14.46,26.58 L11.78,29.01 L8.96,30.95 L6.03,32.36 L3.03,33.21 L0.00,33.50 L-3.03,33.21 L-6.03,32.36 L-8.96,30.95 L-11.78,29.01 L-14.46,26.58 L-16.95,23.69 L-19.22,20.39 L-21.23,16.75 L-22.92,12.82 L-24.28,8.67 L-25.25,4.37 L-25.80,0.00 L-25.91,-4.37 L-25.57,-8.67 L-24.75,-12.82 L-23.46,-16.75 L-21.71,-20.39 L-19.53,-23.69 L-16.95,-26.58 L-14.02,-29.01 L-10.79,-30.95 L-7.32,-32.36 L-3.70,-33.21 L-0.00,-33.50 L3.70,-33.21 L7.32,-32.36 L10.79,-30.95 L14.02,-29.01 L16.95,-26.58 L19.53,-23.69 L21.71,-20.39 L23.46,-16.75 L24.75,-12.82 L25.57,-8.67 L25.91,-4.37Z" fill="#461013" stroke="#2E0A0C" stroke-width="2.2" filter="url(#b15)"/>
</g>
<g transform="translate(314.4,853.5) rotate(0)">
<path d="M26.00,0.00 L25.44,4.46 L24.46,8.85 L23.10,13.09 L21.39,17.10 L19.37,20.82 L17.08,24.18 L14.57,27.13 L11.87,29.62 L9.03,31.60 L6.08,33.03 L3.06,33.91 L0.00,34.20 L-3.06,33.91 L-6.08,33.03 L-9.03,31.60 L-11.87,29.62 L-14.57,27.13 L-17.08,24.18 L-19.37,20.82 L-21.39,17.10 L-23.10,13.09 L-24.46,8.85 L-25.44,4.46 L-26.00,0.00 L-26.11,-4.46 L-25.76,-8.85 L-24.94,-13.09 L-23.64,-17.10 L-21.88,-20.82 L-19.68,-24.18 L-17.08,-27.13 L-14.13,-29.62 L-10.87,-31.60 L-7.38,-33.03 L-3.73,-33.91 L-0.00,-34.20 L3.73,-33.91 L7.38,-33.03 L10.87,-31.60 L14.13,-29.62 L17.08,-27.13 L19.68,-24.18 L21.88,-20.82 L23.64,-17.10 L24.94,-13.09 L25.76,-8.85 L26.11,-4.46Z" fill="#4C1114" stroke="#2E0A0C" stroke-width="2.2" filter="url(#b15)"/>
</g>
<g transform="translate(373,840.5) rotate(15)">
<path d="M25.00,0.00 L24.46,4.46 L23.52,8.85 L22.21,13.09 L20.57,17.10 L18.63,20.82 L16.43,24.18 L14.01,27.13 L11.42,29.62 L8.68,31.60 L5.85,33.03 L2.94,33.91 L0.00,34.20 L-2.94,33.91 L-5.85,33.03 L-8.68,31.60 L-11.42,29.62 L-14.01,27.13 L-16.43,24.18 L-18.63,20.82 L-20.57,17.10 L-22.21,13.09 L-23.52,8.85 L-24.46,4.46 L-25.00,0.00 L-25.11,-4.46 L-24.77,-8.85 L-23.98,-13.09 L-22.73,-17.10 L-21.04,-20.82 L-18.93,-24.18 L-16.43,-27.13 L-13.58,-29.62 L-10.45,-31.60 L-7.10,-33.03 L-3.59,-33.91 L-0.00,-34.20 L3.59,-33.91 L7.10,-33.03 L10.45,-31.60 L13.58,-29.62 L16.43,-27.13 L18.93,-24.18 L21.04,-20.82 L22.73,-17.10 L23.98,-13.09 L24.77,-8.85 L25.11,-4.46Z" fill="#4C1114" stroke="#2E0A0C" stroke-width="2.2" filter="url(#b15)"/>
</g>
<path d="M302.459,825.1500000000001 C304.26,821.82 310.97,823.74 315.39,824.00 C319.82,824.25 327.01,823.10 329.03,826.69 C331.06,830.27 328.51,838.72 327.54,845.50 C326.57,852.29 324.62,861.05 323.23,867.39 C321.83,873.73 320.85,883.52 319.18,883.52 C317.51,883.52 315.63,873.98 313.19,867.39 C310.76,860.80 306.36,851.01 304.57,843.97 C302.78,836.93 300.65,828.48 302.46,825.15Z" fill="#C4262C" opacity="0.92" filter="url(#b3)"/>
<path d="M371.12,810.51 C373.51,808.25 379.99,813.73 384.06,814.25 C388.12,814.78 393.82,810.13 395.50,813.68 C397.17,817.23 395.76,828.53 394.09,835.57 C392.42,842.61 388.82,850.33 385.46,855.92 C382.11,861.50 376.09,869.85 373.94,869.07 C371.78,868.29 373.23,858.09 372.53,851.21 C371.82,844.33 369.95,834.57 369.71,827.79 C369.48,821.01 368.73,812.77 371.12,810.51Z" fill="#C4262C" opacity="0.8" filter="url(#b3)"/>
<path d="M315.2,824 L316,853" fill="none" stroke="#6A1418" stroke-width="3.5" opacity="0.7" filter="url(#b2)"/>
<path d="M384.5,814 L382,830" fill="none" stroke="#6A1418" stroke-width="3.5" opacity="0.7" filter="url(#b2)"/>
<circle cx="273.5" cy="809.4" r="1.6" fill="#220708" filter="url(#b1)"/>
<circle cx="267.8" cy="811" r="1.3" fill="#C02A2E" filter="url(#b1)"/>
<circle cx="290.5" cy="813" r="1.3" fill="#C02A2E" filter="url(#b1)"/>
<circle cx="299.1" cy="889.5" r="1.3" fill="#C02A2E" filter="url(#b1)"/>
<circle cx="387.6" cy="892.5" r="1.3" fill="#C02A2E" filter="url(#b1)"/>
</g>
<text x="7.1" y="626.4" font-size="13.5" font-weight="bold" fill="#fff">stage 14</text>
<text x="8" y="721.5" font-size="13.5" font-weight="bold" fill="#fff">+ 1 hour</text>
<text x="8" y="819.4" font-size="13.5" font-weight="bold" fill="#fff">+ 2 hour</text>
<text x="115.5" y="794.3" font-size="11" font-weight="bold" fill="#ED1C24">hindbrain width</text>
<line x1="38.5" y1="772.9" x2="55.6" y2="769.2" stroke="#ED1C24" stroke-width="1.6"/>
<line x1="99" y1="766.6" x2="117" y2="764.9" stroke="#ED1C24" stroke-width="1.6"/>
<line x1="154" y1="756.4" x2="174.6" y2="759.5" stroke="#ED1C24" stroke-width="1.6"/>
<g id="D">
<text x="450.8" y="571" font-size="33.5" font-weight="bold" fill="#231F20">D</text>
<rect x="521.7" y="569.8" width="214.3" height="281.6" fill="#EBEBEB"/>
<line x1="530.5" y1="569.8" x2="530.5" y2="851.4" stroke="#FAFAFA" stroke-width="0.9"/>
<line x1="588.2" y1="569.8" x2="588.2" y2="851.4" stroke="#FAFAFA" stroke-width="0.9"/>
<line x1="645.9" y1="569.8" x2="645.9" y2="851.4" stroke="#FAFAFA" stroke-width="0.9"/>
<line x1="703.6" y1="569.8" x2="703.6" y2="851.4" stroke="#FAFAFA" stroke-width="0.9"/>
<line x1="521.7" y1="623.2" x2="736" y2="623.2" stroke="#FAFAFA" stroke-width="0.9"/>
<line x1="518.8" y1="623.2" x2="521.7" y2="623.2" stroke="#333" stroke-width="0.8"/>
<line x1="521.7" y1="711.4" x2="736" y2="711.4" stroke="#FAFAFA" stroke-width="0.9"/>
<line x1="518.8" y1="711.4" x2="521.7" y2="711.4" stroke="#333" stroke-width="0.8"/>
<line x1="521.7" y1="800.0" x2="736" y2="800.0" stroke="#FAFAFA" stroke-width="0.9"/>
<line x1="518.8" y1="800.0" x2="521.7" y2="800.0" stroke="#333" stroke-width="0.8"/>
<text x="530.5" y="867.4" font-size="12.5" fill="#4D4D4D" text-anchor="middle">0.8</text>
<text x="588.2" y="867.4" font-size="12.5" fill="#4D4D4D" text-anchor="middle">1.0</text>
<text x="645.9" y="867.4" font-size="12.5" fill="#4D4D4D" text-anchor="middle">1.2</text>
<text x="703.6" y="867.4" font-size="12.5" fill="#4D4D4D" text-anchor="middle">1.4</text>
<text x="428.6" y="628" font-size="19" fill="#231F20">uninjected</text>
<text x="445.7" y="700.7" font-size="19" fill="#231F20">sgRNA</text>
<text x="458.2" y="724.4" font-size="19" fill="#231F20">only</text>
<text x="445.7" y="794.5" font-size="19" fill="#231F20">sgRNA</text>
<text x="445.2" y="817.8" font-size="19" fill="#231F20">+ Cas9</text>
<text class="bk" x="624.8" y="890" font-size="16.5" font-weight="bold" fill="#231F20" text-anchor="middle">hindbrain width</text>
<text class="bk" x="625" y="909.3" font-size="16.5" font-weight="bold" fill="#231F20" text-anchor="middle">normalized by clutch</text>
<path d="M531.4,615.9 C532.48,615.50 535.18,614.57 537.90,613.50 C540.62,612.43 544.42,610.98 547.70,609.50 C550.98,608.02 554.32,606.40 557.60,604.60 C560.88,602.80 564.12,601.17 567.40,598.70 C570.68,596.23 574.67,592.10 577.30,589.80 C579.93,587.50 581.17,586.07 583.20,584.90 C585.23,583.73 587.55,582.80 589.50,582.80 C591.45,582.80 593.18,583.98 594.90,584.90 C596.62,585.82 598.00,587.15 599.80,588.30 C601.60,589.45 603.23,590.07 605.70,591.80 C608.17,593.53 611.48,596.23 614.60,598.70 C617.72,601.17 621.12,603.97 624.40,606.60 C627.68,609.23 632.65,613.18 634.30,614.50 L634.3,632.2 C632.65,633.68 627.68,638.40 624.40,641.10 C621.12,643.80 617.72,646.18 614.60,648.40 C611.48,650.62 608.17,652.83 605.70,654.40 C603.23,655.97 601.60,656.73 599.80,657.80 C598.00,658.87 596.62,660.03 594.90,660.80 C593.18,661.57 591.45,662.40 589.50,662.40 C587.55,662.40 585.23,661.90 583.20,660.80 C581.17,659.70 579.93,658.10 577.30,655.80 C574.67,653.50 570.68,649.53 567.40,647.00 C564.12,644.47 560.88,642.58 557.60,640.60 C554.32,638.62 550.98,636.58 547.70,635.10 C544.42,633.62 540.62,632.68 537.90,631.70 C535.18,630.72 532.48,629.62 531.40,629.20 Z" fill="none" stroke="#333" stroke-width="1.3"/>
<path d="M537.4,693.3 C538.07,692.30 539.88,689.20 541.40,687.30 C542.92,685.40 544.80,683.37 546.50,681.90 C548.20,680.43 549.77,679.30 551.60,678.50 C553.43,677.70 555.82,677.25 557.50,677.10 C559.18,676.95 559.88,677.02 561.70,677.60 C563.52,678.18 566.15,679.47 568.40,680.60 C570.65,681.73 572.67,683.20 575.20,684.40 C577.73,685.60 581.13,686.82 583.60,687.80 C586.07,688.78 587.10,689.78 590.00,690.30 C592.90,690.82 597.48,690.77 601.00,690.90 C604.52,691.03 608.30,690.78 611.10,691.10 C613.90,691.42 615.42,691.95 617.80,692.80 C620.18,693.65 622.78,694.87 625.40,696.20 C628.02,697.53 632.15,700.03 633.50,700.80 L633.5,722.4 C632.15,723.03 628.02,725.08 625.40,726.20 C622.78,727.32 620.18,728.28 617.80,729.10 C615.42,729.92 613.90,730.75 611.10,731.10 C608.30,731.45 604.52,731.03 601.00,731.20 C597.48,731.37 592.90,731.60 590.00,732.10 C587.10,732.60 586.07,733.15 583.60,734.20 C581.13,735.25 577.73,737.13 575.20,738.40 C572.67,739.67 570.65,740.75 568.40,741.80 C566.15,742.85 563.52,744.10 561.70,744.70 C559.88,745.30 559.18,745.60 557.50,745.40 C555.82,745.20 553.43,744.45 551.60,743.50 C549.77,742.55 548.20,741.32 546.50,739.70 C544.80,738.08 542.92,735.70 541.40,733.80 C539.88,731.90 538.07,729.22 537.40,728.30 Z" fill="none" stroke="#333" stroke-width="1.3"/>
<path d="M591.4,782.2 C592.47,781.55 595.60,779.35 597.80,778.30 C600.00,777.25 602.32,776.43 604.60,775.90 C606.88,775.37 609.37,775.07 611.50,775.10 C613.63,775.13 613.98,775.68 617.40,776.10 C620.82,776.52 628.02,777.23 632.00,777.60 C635.98,777.97 637.47,778.13 641.30,778.30 C645.13,778.47 650.42,778.18 655.00,778.60 C659.58,779.02 665.13,780.12 668.80,780.80 C672.47,781.48 673.80,781.65 677.00,782.70 C680.20,783.75 684.33,785.63 688.00,787.10 C691.67,788.57 696.25,790.50 699.00,791.50 C701.75,792.50 702.30,792.55 704.50,793.10 C706.70,793.65 709.45,794.33 712.20,794.80 C714.95,795.27 718.62,795.63 721.00,795.90 C723.38,796.17 725.58,796.32 726.50,796.40 L726.5,803.2 C725.58,803.17 723.38,802.93 721.00,803.00 C718.62,803.07 714.95,803.13 712.20,803.60 C709.45,804.07 706.70,805.07 704.50,805.80 C702.30,806.53 701.75,806.90 699.00,808.00 C696.25,809.10 691.67,810.93 688.00,812.40 C684.33,813.87 680.20,815.80 677.00,816.80 C673.80,817.80 672.47,817.77 668.80,818.40 C665.13,819.03 659.58,820.27 655.00,820.60 C650.42,820.93 645.13,820.35 641.30,820.40 C637.47,820.45 635.98,820.50 632.00,820.90 C628.02,821.30 620.82,822.35 617.40,822.80 C613.98,823.25 613.63,823.60 611.50,823.60 C609.37,823.60 606.88,823.42 604.60,822.80 C602.32,822.18 600.00,820.95 597.80,819.90 C595.60,818.85 592.47,817.07 591.40,816.50 Z" fill="none" stroke="#333" stroke-width="1.3"/>
<line x1="571.3" y1="596.2" x2="571.3" y2="649.4" stroke="#3A3A3A" stroke-width="1.5"/>
<line x1="588.9" y1="583" x2="588.9" y2="662.3" stroke="#3A3A3A" stroke-width="1.5"/>
<line x1="605.2" y1="591.8" x2="605.2" y2="654.4" stroke="#3A3A3A" stroke-width="1.5"/>
<line x1="557.5" y1="677.1" x2="557.5" y2="745.4" stroke="#3A3A3A" stroke-width="1.5"/>
<line x1="575.6" y1="684.4" x2="575.6" y2="738.4" stroke="#3A3A3A" stroke-width="1.5"/>
<line x1="601" y1="690.9" x2="601" y2="731.2" stroke="#3A3A3A" stroke-width="1.5"/>
<line x1="616.9" y1="776.1" x2="616.9" y2="822.8" stroke="#3A3A3A" stroke-width="1.5"/>
<line x1="641.3" y1="778.3" x2="641.3" y2="820.4" stroke="#3A3A3A" stroke-width="1.5"/>
<line x1="669.1" y1="780.8" x2="669.1" y2="818.3" stroke="#3A3A3A" stroke-width="1.5"/>
<circle cx="531.9" cy="613" r="2.1" fill="#7570B3"/>
<circle cx="560.5" cy="627.8" r="2.1" fill="#7570B3"/>
<circle cx="583.5" cy="636.6" r="2.1" fill="#7570B3"/>
<circle cx="576.8" cy="645" r="2.1" fill="#7570B3"/>
<circle cx="588.4" cy="619.4" r="2.1" fill="#7570B3"/>
<circle cx="588.4" cy="621.3" r="2.1" fill="#7570B3"/>
<circle cx="617" cy="615" r="2.1" fill="#7570B3"/>
<circle cx="615.5" cy="619.9" r="2.1" fill="#7570B3"/>
<circle cx="617" cy="631" r="2.1" fill="#7570B3"/>
<circle cx="600.1" cy="637.6" r="2.1" fill="#7570B3"/>
<circle cx="546.9" cy="695.8" r="2.1" fill="#7570B3"/>
<circle cx="557" cy="694.5" r="2.1" fill="#7570B3"/>
<circle cx="553.7" cy="705.1" r="2.1" fill="#7570B3"/>
<circle cx="557" cy="703.4" r="2.1" fill="#7570B3"/>
<circle cx="546.9" cy="707.6" r="2.1" fill="#7570B3"/>
<circle cx="552" cy="711.4" r="2.1" fill="#7570B3"/>
<circle cx="553.7" cy="713.1" r="2.1" fill="#7570B3"/>
<circle cx="563" cy="723.6" r="2.1" fill="#7570B3"/>
<circle cx="605.2" cy="689" r="2.1" fill="#7570B3"/>
<circle cx="610.1" cy="713.3" r="2.1" fill="#7570B3"/>
<circle cx="612.4" cy="715.2" r="2.1" fill="#7570B3"/>
<circle cx="601.8" cy="728.7" r="2.1" fill="#7570B3"/>
<circle cx="603.7" cy="780.8" r="2.1" fill="#7570B3"/>
<circle cx="608.5" cy="786.1" r="2.1" fill="#7570B3"/>
<circle cx="598.6" cy="793.5" r="2.1" fill="#7570B3"/>
<circle cx="625.7" cy="793.3" r="2.1" fill="#7570B3"/>
<circle cx="615.6" cy="797.6" r="2.1" fill="#7570B3"/>
<circle cx="608.5" cy="809.6" r="2.1" fill="#7570B3"/>
<circle cx="608.7" cy="811.6" r="2.1" fill="#7570B3"/>
<circle cx="597" cy="821.6" r="2.1" fill="#7570B3"/>
<circle cx="640.8" cy="803.3" r="2.1" fill="#7570B3"/>
<circle cx="642.3" cy="820.7" r="2.1" fill="#7570B3"/>
<circle cx="565.9" cy="613.5" r="2.1" fill="#F26522"/>
<circle cx="577.3" cy="612.5" r="2.1" fill="#F26522"/>
<circle cx="575.1" cy="621.3" r="2.1" fill="#F26522"/>
<circle cx="580.7" cy="629.7" r="2.1" fill="#F26522"/>
<circle cx="547.5" cy="644.5" r="2.1" fill="#F26522"/>
<circle cx="591.7" cy="602.8" r="2.1" fill="#F26522"/>
<circle cx="591.7" cy="615.6" r="2.1" fill="#F26522"/>
<circle cx="610.8" cy="615.6" r="2.1" fill="#F26522"/>
<circle cx="608.6" cy="618.4" r="2.1" fill="#F26522"/>
<circle cx="629.3" cy="616.9" r="2.1" fill="#F26522"/>
<circle cx="556.5" cy="690.6" r="2.1" fill="#F26522"/>
<circle cx="562.1" cy="690.6" r="2.1" fill="#F26522"/>
<circle cx="571.8" cy="692.8" r="2.1" fill="#F26522"/>
<circle cx="547.3" cy="700.4" r="2.1" fill="#F26522"/>
<circle cx="571.8" cy="727" r="2.1" fill="#F26522"/>
<circle cx="586.2" cy="731.2" r="2.1" fill="#F26522"/>
<circle cx="623.8" cy="721.3" r="2.1" fill="#F26522"/>
<circle cx="625.9" cy="721.3" r="2.1" fill="#F26522"/>
<circle cx="633.5" cy="715.9" r="2.1" fill="#F26522"/>
<circle cx="591.9" cy="805.4" r="2.1" fill="#F26522"/>
<circle cx="642.3" cy="789.1" r="2.1" fill="#F26522"/>
<circle cx="693" cy="790.4" r="2.1" fill="#F26522"/>
<circle cx="677.6" cy="801.7" r="2.1" fill="#F26522"/>
<circle cx="670.4" cy="809.4" r="2.1" fill="#F26522"/>
<circle cx="726.5" cy="818.4" r="2.1" fill="#F26522"/>
<circle cx="564" cy="621.8" r="2.1" fill="#1B9E77"/>
<circle cx="560.5" cy="642.5" r="2.1" fill="#1B9E77"/>
<circle cx="541.8" cy="644.5" r="2.1" fill="#1B9E77"/>
<circle cx="600.8" cy="603.4" r="2.1" fill="#1B9E77"/>
<circle cx="589.4" cy="606.3" r="2.1" fill="#1B9E77"/>
<circle cx="599.1" cy="622.5" r="2.1" fill="#1B9E77"/>
<circle cx="634.5" cy="616.9" r="2.1" fill="#1B9E77"/>
<circle cx="591.7" cy="632.7" r="2.1" fill="#1B9E77"/>
<circle cx="588" cy="639.3" r="2.1" fill="#1B9E77"/>
<circle cx="610.3" cy="640.3" r="2.1" fill="#1B9E77"/>
<circle cx="579" cy="695.8" r="2.1" fill="#1B9E77"/>
<circle cx="573.5" cy="712.2" r="2.1" fill="#1B9E77"/>
<circle cx="587.9" cy="709.7" r="2.1" fill="#1B9E77"/>
<circle cx="584.1" cy="715" r="2.1" fill="#1B9E77"/>
<circle cx="537.9" cy="726.3" r="2.1" fill="#1B9E77"/>
<circle cx="600.8" cy="699" r="2.1" fill="#1B9E77"/>
<circle cx="620.8" cy="721.1" r="2.1" fill="#1B9E77"/>
<circle cx="636.1" cy="817.3" r="2.1" fill="#1B9E77"/>
<circle cx="660" cy="805.4" r="2.1" fill="#1B9E77"/>
<circle cx="663.3" cy="805.8" r="2.1" fill="#1B9E77"/>
<circle cx="660" cy="809.1" r="2.1" fill="#1B9E77"/>
<circle cx="661.5" cy="807" r="2.1" fill="#1B9E77"/>
<circle cx="682.3" cy="800.3" r="2.1" fill="#1B9E77"/>
<rect x="647.9" y="624.1" width="3.1" height="86.2" fill="#ED1C24"/>
<rect x="529" y="711.8" width="3.1" height="86.9" fill="#ED1C24"/>
<rect x="702.6" y="623.5" width="3.1" height="176.5" fill="#ED1C24"/>
<rect x="658.8" y="645.5" width="2" height="1" fill="#ED1C24"/>
<text x="593" y="674.8" font-size="11" font-weight="bold" fill="#ED1C24">p = 0.2281</text>
<text x="537.8" y="761.1" font-size="11" font-weight="bold" fill="#ED1C24">p = 2.043e-07</text>
<text x="629.8" y="761.1" font-size="11" font-weight="bold" fill="#ED1C24">p = 2.183e-06</text>
</g>
</svg></body></html>
